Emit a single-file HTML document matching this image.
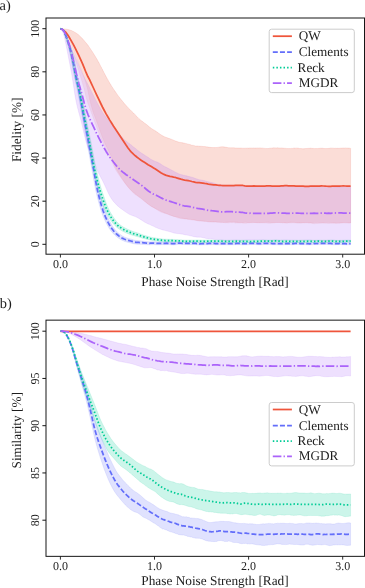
<!DOCTYPE html>
<html><head><meta charset="utf-8"><title>chart</title>
<style>
html,body{margin:0;padding:0;background:#fff;}
body{width:365px;height:588px;overflow:hidden;}
svg{display:block;font-family:"Liberation Serif",serif;will-change:transform;}
text{text-rendering:geometricPrecision;}
</style></head><body>
<svg width="365" height="588" viewBox="0 0 365 588">
<defs>
<clipPath id="c1"><rect x="46.0" y="18.0" width="318.5" height="236.2"/></clipPath>
<clipPath id="c2"><rect x="46.0" y="320.15" width="318.5" height="236.20000000000005"/></clipPath>
</defs>
<rect width="365" height="588" fill="#fff"/>
<g clip-path="url(#c1)">
<path d="M60.50,28.70 L62.32,28.76 L64.15,28.93 L65.97,29.17 L67.80,29.47 L69.62,29.89 L71.45,30.56 L73.27,31.43 L75.10,32.44 L76.92,33.57 L78.75,34.97 L80.57,36.69 L82.39,38.60 L84.22,40.67 L86.04,42.83 L87.87,45.12 L89.69,47.69 L91.52,50.42 L93.34,53.31 L95.17,56.22 L96.99,59.28 L98.82,62.54 L100.64,66.03 L102.46,69.58 L104.29,73.17 L106.11,76.58 L107.94,79.89 L109.76,83.07 L111.59,86.07 L113.41,88.88 L115.24,91.53 L117.06,94.14 L118.88,96.65 L120.71,99.05 L122.53,101.30 L124.36,103.49 L126.18,105.57 L128.01,107.64 L129.83,109.40 L131.66,111.32 L133.48,113.00 L135.31,114.93 L137.13,116.70 L138.95,118.63 L140.78,120.23 L142.60,121.62 L144.43,122.98 L146.25,124.24 L148.08,125.75 L149.90,127.31 L151.73,128.73 L153.55,129.78 L155.38,130.93 L157.20,132.10 L159.02,133.38 L160.85,134.70 L162.67,135.85 L164.50,136.66 L166.32,137.43 L168.15,138.10 L169.97,138.72 L171.80,139.46 L173.62,140.21 L175.45,141.01 L177.27,141.60 L179.09,142.21 L180.92,142.46 L182.74,142.82 L184.57,143.21 L186.39,143.64 L188.22,144.14 L190.04,144.56 L191.87,145.21 L193.69,145.45 L195.52,145.94 L197.34,145.99 L199.16,146.29 L200.99,146.21 L202.81,146.46 L204.64,146.56 L206.46,146.83 L208.29,147.12 L210.11,147.33 L211.94,147.56 L213.76,147.59 L215.58,147.55 L217.41,147.42 L219.23,147.14 L221.06,146.83 L222.88,146.72 L224.71,147.00 L226.53,147.36 L228.36,147.67 L230.18,147.80 L232.01,147.82 L233.83,147.77 L235.65,147.95 L237.48,148.03 L239.30,148.09 L241.13,148.06 L242.95,148.14 L244.78,148.23 L246.60,148.14 L248.43,148.12 L250.25,147.92 L252.08,148.04 L253.90,147.91 L255.72,148.06 L257.55,147.90 L259.37,147.88 L261.20,147.95 L263.02,148.19 L264.85,148.39 L266.67,148.48 L268.50,148.50 L270.32,148.16 L272.15,147.97 L273.97,147.82 L275.79,147.92 L277.62,147.86 L279.44,148.05 L281.27,147.94 L283.09,148.10 L284.92,148.20 L286.74,148.41 L288.57,148.53 L290.39,148.49 L292.22,148.42 L294.04,148.09 L295.86,148.15 L297.69,148.08 L299.51,148.46 L301.34,148.61 L303.16,148.76 L304.99,148.60 L306.81,148.44 L308.64,148.32 L310.46,148.23 L312.28,148.36 L314.11,148.46 L315.93,148.59 L317.76,148.50 L319.58,148.34 L321.41,148.29 L323.23,148.33 L325.06,148.51 L326.88,148.49 L328.71,148.36 L330.53,148.14 L332.35,148.13 L334.18,148.19 L336.00,148.28 L337.83,148.28 L339.65,148.27 L341.48,148.07 L343.30,148.06 L345.13,147.90 L346.95,148.05 L348.78,148.08 L350.60,148.34 L350.60,223.00 L348.78,222.96 L346.95,222.57 L345.13,222.59 L343.30,222.41 L341.48,222.78 L339.65,222.80 L337.83,222.87 L336.00,222.77 L334.18,222.72 L332.35,222.65 L330.53,222.50 L328.71,222.40 L326.88,222.44 L325.06,222.58 L323.23,222.68 L321.41,222.59 L319.58,222.62 L317.76,222.39 L315.93,222.51 L314.11,222.48 L312.28,222.75 L310.46,222.71 L308.64,223.01 L306.81,222.86 L304.99,222.87 L303.16,222.75 L301.34,222.82 L299.51,222.97 L297.69,222.96 L295.86,222.94 L294.04,222.82 L292.22,222.77 L290.39,222.90 L288.57,222.90 L286.74,223.13 L284.92,222.90 L283.09,222.91 L281.27,222.62 L279.44,222.50 L277.62,222.52 L275.79,222.55 L273.97,222.64 L272.15,222.47 L270.32,222.43 L268.50,222.25 L266.67,222.26 L264.85,222.36 L263.02,222.43 L261.20,222.45 L259.37,222.39 L257.55,222.43 L255.72,222.52 L253.90,222.58 L252.08,222.77 L250.25,222.68 L248.43,222.57 L246.60,222.35 L244.78,222.28 L242.95,222.45 L241.13,222.51 L239.30,223.08 L237.48,222.92 L235.65,223.04 L233.83,222.55 L232.01,222.65 L230.18,222.51 L228.36,222.90 L226.53,222.71 L224.71,222.70 L222.88,222.36 L221.06,222.29 L219.23,222.01 L217.41,221.98 L215.58,221.92 L213.76,221.89 L211.94,222.02 L210.11,221.97 L208.29,221.77 L206.46,221.31 L204.64,221.15 L202.81,220.93 L200.99,220.94 L199.16,220.91 L197.34,220.71 L195.52,220.26 L193.69,219.79 L191.87,219.51 L190.04,219.27 L188.22,219.24 L186.39,219.09 L184.57,218.97 L182.74,218.76 L180.92,218.65 L179.09,218.15 L177.27,217.73 L175.45,216.87 L173.62,216.28 L171.80,215.60 L169.97,215.09 L168.15,214.37 L166.32,213.71 L164.50,213.25 L162.67,212.71 L160.85,212.10 L159.02,211.10 L157.20,209.78 L155.38,208.49 L153.55,207.42 L151.73,206.67 L149.90,205.50 L148.08,204.13 L146.25,202.55 L144.43,200.81 L142.60,199.40 L140.78,198.04 L138.95,197.03 L137.13,195.76 L135.31,194.63 L133.48,193.12 L131.66,191.37 L129.83,189.30 L128.01,187.14 L126.18,184.83 L124.36,182.40 L122.53,179.92 L120.71,177.39 L118.88,174.79 L117.06,171.96 L115.24,168.92 L113.41,165.22 L111.59,160.99 L109.76,156.68 L107.94,152.78 L106.11,149.04 L104.29,145.49 L102.46,141.75 L100.64,137.62 L98.82,132.95 L96.99,128.01 L95.17,122.94 L93.34,118.05 L91.52,113.08 L89.69,108.12 L87.87,103.23 L86.04,97.00 L84.22,89.25 L82.39,82.86 L80.57,76.90 L78.75,70.86 L76.92,64.94 L75.10,59.22 L73.27,53.71 L71.45,48.40 L69.62,43.17 L67.80,38.53 L65.97,34.27 L64.15,31.16 L62.32,29.49 L60.50,28.70Z" fill="#EF553B" fill-opacity="0.105" stroke="#EF553B" stroke-opacity="0.105" stroke-width="0.6"/>
<path d="M60.50,28.70 L62.32,28.76 L64.15,28.93 L65.97,29.17 L67.80,29.47 L69.62,29.89 L71.45,30.56 L73.27,31.43 L75.10,32.44 L76.92,33.57 L78.75,34.97 L80.57,36.69 L82.39,38.60 L84.22,40.67 L86.04,42.83 L87.87,45.12 L89.69,47.69 L91.52,50.42 L93.34,53.31 L95.17,56.22 L96.99,59.28 L98.82,62.54 L100.64,66.03 L102.46,69.58 L104.29,73.17 L106.11,76.58 L107.94,79.89 L109.76,83.07 L111.59,86.07 L113.41,88.88 L115.24,91.53 L117.06,94.14 L118.88,96.65 L120.71,99.05 L122.53,101.30 L124.36,103.49 L126.18,105.57 L128.01,107.64 L129.83,109.40 L131.66,111.32 L133.48,113.00 L135.31,114.93 L137.13,116.70 L138.95,118.63 L140.78,120.23 L142.60,121.62 L144.43,122.98 L146.25,124.24 L148.08,125.75 L149.90,127.31 L151.73,128.73 L153.55,129.78 L155.38,130.93 L157.20,132.10 L159.02,133.38 L160.85,134.70 L162.67,135.85 L164.50,136.66 L166.32,137.43 L168.15,138.10 L169.97,138.72 L171.80,139.46 L173.62,140.21 L175.45,141.01 L177.27,141.60 L179.09,142.21 L180.92,142.46 L182.74,142.82 L184.57,143.21 L186.39,143.64 L188.22,144.14 L190.04,144.56 L191.87,145.21 L193.69,145.45 L195.52,145.94 L197.34,145.99 L199.16,146.29 L200.99,146.21 L202.81,146.46 L204.64,146.56 L206.46,146.83 L208.29,147.12 L210.11,147.33 L211.94,147.56 L213.76,147.59 L215.58,147.55 L217.41,147.42 L219.23,147.14 L221.06,146.83 L222.88,146.72 L224.71,147.00 L226.53,147.36 L228.36,147.67 L230.18,147.80 L232.01,147.82 L233.83,147.77 L235.65,147.95 L237.48,148.03 L239.30,148.09 L241.13,148.06 L242.95,148.14 L244.78,148.23 L246.60,148.14 L248.43,148.12 L250.25,147.92 L252.08,148.04 L253.90,147.91 L255.72,148.06 L257.55,147.90 L259.37,147.88 L261.20,147.95 L263.02,148.19 L264.85,148.39 L266.67,148.48 L268.50,148.50 L270.32,148.16 L272.15,147.97 L273.97,147.82 L275.79,147.92 L277.62,147.86 L279.44,148.05 L281.27,147.94 L283.09,148.10 L284.92,148.20 L286.74,148.41 L288.57,148.53 L290.39,148.49 L292.22,148.42 L294.04,148.09 L295.86,148.15 L297.69,148.08 L299.51,148.46 L301.34,148.61 L303.16,148.76 L304.99,148.60 L306.81,148.44 L308.64,148.32 L310.46,148.23 L312.28,148.36 L314.11,148.46 L315.93,148.59 L317.76,148.50 L319.58,148.34 L321.41,148.29 L323.23,148.33 L325.06,148.51 L326.88,148.49 L328.71,148.36 L330.53,148.14 L332.35,148.13 L334.18,148.19 L336.00,148.28 L337.83,148.28 L339.65,148.27 L341.48,148.07 L343.30,148.06 L345.13,147.90 L346.95,148.05 L348.78,148.08 L350.60,148.34 L350.60,222.91 L348.78,223.10 L346.95,223.11 L345.13,223.05 L343.30,223.03 L341.48,222.95 L339.65,223.29 L337.83,223.30 L336.00,223.45 L334.18,223.20 L332.35,223.33 L330.53,223.34 L328.71,223.49 L326.88,223.37 L325.06,223.31 L323.23,223.10 L321.41,223.14 L319.58,223.25 L317.76,223.50 L315.93,223.59 L314.11,223.66 L312.28,223.52 L310.46,223.03 L308.64,222.76 L306.81,222.51 L304.99,222.63 L303.16,222.70 L301.34,223.02 L299.51,223.00 L297.69,222.81 L295.86,222.60 L294.04,222.29 L292.22,222.24 L290.39,222.17 L288.57,222.42 L286.74,222.44 L284.92,222.71 L283.09,222.62 L281.27,222.66 L279.44,222.47 L277.62,222.47 L275.79,222.58 L273.97,222.86 L272.15,223.09 L270.32,223.20 L268.50,223.19 L266.67,223.03 L264.85,222.91 L263.02,222.81 L261.20,222.89 L259.37,222.91 L257.55,222.90 L255.72,222.63 L253.90,222.44 L252.08,222.32 L250.25,222.52 L248.43,222.87 L246.60,223.21 L244.78,223.20 L242.95,223.16 L241.13,222.85 L239.30,222.60 L237.48,222.23 L235.65,222.15 L233.83,221.76 L232.01,221.88 L230.18,221.94 L228.36,222.10 L226.53,222.17 L224.71,222.34 L222.88,222.55 L221.06,222.60 L219.23,222.56 L217.41,222.36 L215.58,222.04 L213.76,222.02 L211.94,221.94 L210.11,221.92 L208.29,221.71 L206.46,221.52 L204.64,221.42 L202.81,221.35 L200.99,221.06 L199.16,220.84 L197.34,220.42 L195.52,220.30 L193.69,220.03 L191.87,220.01 L190.04,219.62 L188.22,219.37 L186.39,218.93 L184.57,218.64 L182.74,218.16 L180.92,217.87 L179.09,217.39 L177.27,217.06 L175.45,216.69 L173.62,216.38 L171.80,215.74 L169.97,215.11 L168.15,214.26 L166.32,213.51 L164.50,212.75 L162.67,211.98 L160.85,211.23 L159.02,210.37 L157.20,209.62 L155.38,208.66 L153.55,207.64 L151.73,206.47 L149.90,205.17 L148.08,203.96 L146.25,202.65 L144.43,201.39 L142.60,199.86 L140.78,198.36 L138.95,196.68 L137.13,195.23 L135.31,193.75 L133.48,192.30 L131.66,190.63 L129.83,188.81 L128.01,186.78 L126.18,184.49 L124.36,181.93 L122.53,179.10 L120.71,176.22 L118.88,173.25 L117.06,170.14 L115.24,166.39 L113.41,161.82 L111.59,157.14 L109.76,152.98 L107.94,149.29 L106.11,145.72 L104.29,141.89 L102.46,137.46 L100.64,132.48 L98.82,127.27 L96.99,122.19 L95.17,117.44 L93.34,112.80 L91.52,106.84 L89.69,99.47 L87.87,90.18 L86.04,83.45 L84.22,77.71 L82.39,72.69 L80.57,68.22 L78.75,63.86 L76.92,59.14 L75.10,54.18 L73.27,49.39 L71.45,44.71 L69.62,40.34 L67.80,36.47 L65.97,32.92 L64.15,30.70 L62.32,29.31 L60.50,28.70Z" fill="#EF553B" fill-opacity="0.105" stroke="#EF553B" stroke-opacity="0.105" stroke-width="0.6"/>
<path d="M60.50,28.70 L61.75,29.27 L62.91,30.39 L64.04,32.25 L65.19,35.70 L66.36,39.61 L67.52,43.66 L68.69,48.18 L69.84,53.20 L71.05,59.01 L72.35,65.68 L73.66,72.65 L74.98,79.33 L76.29,85.24 L77.60,91.30 L78.90,98.23 L80.21,105.64 L81.52,113.15 L82.83,120.42 L84.14,127.56 L85.45,134.67 L86.76,141.73 L88.07,148.74 L89.38,155.69 L90.67,162.65 L91.97,169.75 L93.27,177.29 L94.57,184.67 L95.88,191.14 L97.19,196.63 L98.50,201.76 L99.81,206.50 L101.13,210.80 L102.46,214.60 L103.79,217.85 L105.12,220.75 L106.45,223.47 L107.79,225.96 L109.15,228.25 L110.54,230.27 L111.95,232.10 L113.36,233.65 L114.76,235.07 L116.16,236.29 L117.56,237.47 L118.98,238.49 L120.42,239.43 L121.87,240.19 L123.29,240.85 L124.74,241.43 L126.17,241.87 L127.56,242.26 L128.86,242.56 L130.15,242.94 L131.50,243.27 L132.90,243.65 L134.33,243.90 L135.77,244.12 L137.19,244.20 L138.53,244.26 L139.87,244.32 L141.19,244.36 L142.52,244.42 L143.82,244.46 L145.14,244.57 L146.46,244.63 L147.79,244.74 L149.22,244.79 L150.61,244.74 L151.96,244.69 L153.22,244.60 L154.47,244.69 L155.79,244.72 L157.17,244.83 L158.56,244.76 L159.89,244.75 L161.20,244.67 L162.50,244.68 L163.81,244.65 L165.17,244.69 L166.49,244.59 L167.77,244.63 L169.04,244.62 L170.32,244.76 L171.66,244.86 L173.08,244.97 L174.52,244.86 L175.88,244.73 L177.18,244.56 L178.43,244.48 L179.70,244.48 L181.01,244.50 L182.37,244.55 L183.68,244.50 L185.00,244.57 L186.30,244.55 L187.62,244.65 L188.98,244.64 L190.32,244.67 L191.69,244.64 L193.00,244.57 L194.27,244.56 L195.52,244.60 L196.79,244.76 L198.14,244.92 L199.56,245.04 L200.96,244.98 L202.31,244.92 L203.61,244.82 L204.92,244.81 L206.24,244.75 L207.56,244.76 L208.89,244.69 L210.20,244.69 L211.53,244.65 L212.81,244.64 L214.11,244.70 L215.42,244.76 L216.77,244.83 L218.12,244.83 L219.49,244.85 L220.83,244.75 L222.12,244.74 L223.43,244.73 L224.74,244.75 L226.03,244.77 L227.37,244.86 L228.74,244.84 L230.10,244.84 L231.40,244.76 L232.74,244.80 L234.07,244.69 L235.39,244.71 L236.70,244.60 L237.98,244.65 L239.25,244.65 L240.58,244.82 L241.96,244.81 L243.33,244.85 L244.68,244.75 L245.98,244.74 L247.29,244.69 L248.63,244.70 L249.99,244.62 L251.30,244.57 L252.61,244.50 L253.89,244.49 L255.16,244.53 L256.45,244.64 L257.79,244.76 L259.17,244.83 L260.57,244.82 L261.94,244.72 L263.26,244.61 L264.53,244.52 L265.79,244.55 L267.13,244.59 L268.46,244.58 L269.78,244.61 L271.08,244.62 L272.40,244.68 L273.71,244.72 L275.06,244.82 L276.40,244.80 L277.72,244.85 L279.05,244.86 L280.39,244.89 L281.76,244.87 L283.10,244.80 L284.43,244.73 L285.72,244.65 L287.03,244.67 L288.31,244.62 L289.62,244.73 L290.98,244.73 L292.34,244.76 L293.70,244.66 L295.01,244.62 L296.31,244.54 L297.58,244.56 L298.90,244.62 L300.23,244.65 L301.58,244.69 L302.90,244.67 L304.21,244.71 L305.50,244.72 L306.82,244.85 L308.19,244.86 L309.58,244.90 L310.93,244.76 L312.25,244.73 L313.54,244.61 L314.82,244.65 L316.17,244.63 L317.50,244.63 L318.83,244.58 L320.16,244.57 L321.51,244.51 L322.81,244.45 L324.09,244.43 L325.38,244.48 L326.71,244.54 L328.06,244.58 L329.40,244.59 L330.71,244.59 L332.00,244.65 L333.34,244.71 L334.69,244.74 L336.06,244.74 L337.40,244.67 L338.72,244.64 L340.01,244.58 L341.30,244.63 L342.59,244.65 L343.91,244.78 L345.27,244.80 L346.64,244.86 L347.99,244.75 L349.30,244.76 L350.66,244.68 L350.54,242.49 L349.25,242.56 L347.91,242.55 L346.61,242.65 L345.34,242.59 L344.04,242.57 L342.72,242.44 L341.36,242.42 L340.00,242.36 L338.64,242.42 L337.31,242.45 L336.00,242.52 L334.72,242.51 L333.42,242.48 L332.11,242.42 L330.75,242.36 L329.41,242.36 L328.10,242.34 L326.80,242.30 L325.48,242.24 L324.12,242.18 L322.75,242.21 L321.41,242.26 L320.10,242.32 L318.79,242.32 L317.46,242.37 L316.15,242.37 L314.84,242.39 L313.48,242.34 L312.12,242.46 L310.79,242.50 L309.49,242.62 L308.23,242.59 L306.95,242.58 L305.62,242.44 L304.26,242.43 L302.92,242.38 L301.60,242.41 L300.29,242.36 L298.98,242.33 L297.65,242.27 L296.26,242.25 L294.92,242.33 L293.58,242.36 L292.29,242.46 L291.00,242.42 L289.71,242.42 L288.37,242.31 L287.00,242.36 L285.67,242.34 L284.30,242.42 L282.98,242.49 L281.68,242.55 L280.40,242.57 L279.09,242.53 L277.77,242.53 L276.44,242.47 L275.13,242.49 L273.83,242.39 L272.49,242.35 L271.16,242.28 L269.81,242.26 L268.48,242.24 L267.16,242.24 L265.85,242.20 L264.47,242.17 L263.09,242.26 L261.76,242.37 L260.47,242.47 L259.23,242.47 L257.96,242.40 L256.65,242.28 L255.29,242.16 L253.91,242.12 L252.54,242.13 L251.20,242.20 L249.87,242.25 L248.57,242.32 L247.26,242.31 L245.93,242.35 L244.58,242.36 L243.27,242.46 L241.99,242.42 L240.72,242.43 L239.41,242.26 L238.03,242.26 L236.65,242.20 L235.32,242.31 L233.99,242.28 L232.67,242.39 L231.36,242.35 L230.02,242.43 L228.72,242.43 L227.44,242.44 L226.13,242.35 L224.78,242.33 L223.44,242.31 L222.10,242.32 L220.74,242.33 L219.42,242.42 L218.14,242.40 L216.85,242.39 L215.55,242.32 L214.21,242.26 L212.86,242.20 L211.49,242.20 L210.17,242.25 L208.83,242.24 L207.51,242.31 L206.19,242.30 L204.86,242.36 L203.51,242.36 L202.16,242.47 L200.86,242.52 L199.62,242.57 L198.39,242.47 L197.09,242.31 L195.71,242.14 L194.31,242.08 L192.93,242.09 L191.60,242.16 L190.32,242.19 L189.00,242.16 L187.71,242.16 L186.38,242.06 L185.04,242.08 L183.70,242.01 L182.37,242.06 L181.08,242.00 L179.74,241.97 L178.36,241.95 L176.96,242.02 L175.61,242.17 L174.32,242.28 L173.11,242.35 L171.88,242.23 L170.58,242.11 L169.20,241.94 L167.83,241.93 L166.45,241.86 L165.12,241.94 L163.84,241.88 L162.50,241.89 L161.15,241.86 L159.81,241.91 L158.49,241.91 L157.23,241.95 L155.96,241.83 L154.63,241.77 L153.23,241.66 L151.84,241.73 L150.54,241.75 L149.28,241.76 L148.06,241.65 L146.74,241.47 L145.42,241.35 L144.09,241.17 L142.73,241.06 L141.41,240.93 L140.09,240.82 L138.78,240.70 L137.47,240.57 L136.24,240.45 L135.03,240.20 L133.82,239.93 L132.56,239.52 L131.26,239.13 L129.90,238.70 L128.55,238.38 L127.30,238.03 L126.07,237.66 L124.88,237.18 L123.65,236.60 L122.45,235.98 L121.24,235.19 L120.01,234.31 L118.76,233.26 L117.51,232.15 L116.26,230.90 L115.02,229.54 L113.78,227.92 L112.52,226.09 L111.24,223.98 L109.93,221.65 L108.61,219.07 L107.29,216.31 L105.97,213.24 L104.65,209.62 L103.32,205.46 L101.98,200.82 L100.64,195.76 L99.30,190.38 L97.96,184.02 L96.61,176.69 L95.26,169.15 L93.91,162.04 L92.56,155.09 L91.21,148.15 L89.87,141.14 L88.53,134.09 L87.19,126.99 L85.86,119.86 L84.52,112.61 L83.18,105.12 L81.84,97.69 L80.49,90.71 L79.15,84.61 L77.81,78.73 L76.48,72.10 L75.14,65.14 L73.80,58.42 L72.35,52.59 L70.86,47.58 L69.37,43.08 L67.89,39.09 L66.41,35.26 L64.91,31.82 L63.39,29.96 L61.90,28.99 L60.50,28.70Z" fill="#636EFA" fill-opacity="0.2" stroke="#636EFA" stroke-opacity="0.2" stroke-width="0.6"/>
<path d="M60.50,28.70 L61.75,29.27 L62.91,30.39 L64.04,32.26 L65.19,35.73 L66.36,39.61 L67.53,43.49 L68.69,47.73 L69.85,52.46 L71.05,58.02 L72.35,64.69 L73.66,71.75 L74.98,78.47 L76.30,84.13 L77.60,89.45 L78.90,95.78 L80.21,102.85 L81.52,110.16 L82.83,117.24 L84.15,123.88 L85.46,130.31 L86.77,136.78 L88.07,143.45 L89.37,150.68 L90.67,158.08 L91.98,165.01 L93.28,171.11 L94.59,176.90 L95.89,182.32 L97.20,187.33 L98.52,191.83 L99.82,196.01 L101.13,200.00 L102.45,203.78 L103.77,207.30 L105.10,210.49 L106.45,213.33 L107.80,215.74 L109.15,217.94 L110.51,219.98 L111.87,221.96 L113.27,223.74 L114.69,225.36 L116.13,226.73 L117.56,227.91 L118.97,228.94 L120.36,229.85 L121.77,230.72 L123.14,231.43 L124.52,232.18 L125.90,232.80 L127.27,233.44 L128.66,233.98 L130.01,234.50 L131.37,234.95 L132.74,235.40 L134.16,235.82 L135.53,236.14 L136.83,236.47 L138.10,236.82 L139.40,237.25 L140.72,237.67 L142.11,238.15 L143.52,238.50 L144.87,238.84 L146.20,239.13 L147.55,239.49 L148.88,239.73 L150.24,240.10 L151.65,240.34 L153.00,240.57 L154.33,240.73 L155.66,240.95 L157.04,241.11 L158.35,241.24 L159.67,241.40 L161.01,241.55 L162.34,241.69 L163.72,241.83 L165.10,241.88 L166.44,241.89 L167.76,241.92 L169.08,241.95 L170.43,241.98 L171.74,241.97 L173.05,242.01 L174.38,242.04 L175.70,242.07 L177.01,242.10 L178.33,242.16 L179.64,242.21 L180.95,242.31 L182.29,242.40 L183.62,242.48 L184.99,242.55 L186.34,242.53 L187.71,242.56 L189.01,242.45 L190.29,242.51 L191.63,242.50 L192.99,242.54 L194.36,242.46 L195.66,242.38 L196.93,242.36 L198.20,242.41 L199.52,242.51 L200.90,242.56 L202.25,242.54 L203.56,242.53 L204.91,242.55 L206.25,242.47 L207.59,242.47 L208.88,242.35 L210.16,242.43 L211.49,242.39 L212.81,242.48 L214.18,242.45 L215.51,242.44 L216.86,242.39 L218.16,242.32 L219.45,242.33 L220.72,242.33 L222.02,242.45 L223.35,242.53 L224.72,242.63 L226.09,242.62 L227.43,242.61 L228.73,242.57 L230.05,242.60 L231.39,242.58 L232.73,242.58 L234.06,242.53 L235.40,242.50 L236.69,242.44 L237.99,242.48 L239.31,242.47 L240.65,242.53 L241.98,242.48 L243.30,242.52 L244.64,242.47 L245.91,242.50 L247.23,242.56 L248.53,242.60 L249.87,242.71 L251.24,242.72 L252.62,242.73 L253.98,242.60 L255.28,242.54 L256.58,242.48 L257.87,242.48 L259.22,242.48 L260.57,242.42 L261.93,242.36 L263.21,242.24 L264.50,242.27 L265.80,242.23 L267.11,242.32 L268.44,242.32 L269.78,242.40 L271.15,242.35 L272.49,242.32 L273.84,242.25 L275.15,242.16 L276.39,242.12 L277.67,242.21 L278.97,242.29 L280.34,242.43 L281.70,242.41 L283.06,242.46 L284.38,242.36 L285.66,242.42 L286.96,242.41 L288.27,242.53 L289.63,242.57 L291.00,242.62 L292.36,242.54 L293.70,242.50 L294.98,242.41 L296.27,242.47 L297.57,242.46 L298.93,242.58 L300.30,242.48 L301.62,242.49 L302.94,242.40 L304.25,242.42 L305.57,242.37 L306.90,242.40 L308.25,242.33 L309.51,242.30 L310.77,242.38 L312.10,242.52 L313.50,242.58 L314.89,242.55 L316.23,242.43 L317.53,242.37 L318.80,242.34 L320.10,242.38 L321.43,242.40 L322.76,242.45 L324.11,242.45 L325.47,242.44 L326.84,242.36 L328.18,242.25 L329.44,242.13 L330.71,242.17 L331.99,242.18 L333.28,242.32 L334.60,242.41 L335.97,242.57 L337.35,242.56 L338.69,242.58 L340.04,242.53 L341.37,242.49 L342.69,242.42 L344.03,242.39 L345.34,242.28 L346.64,242.30 L347.94,242.23 L349.27,242.31 L350.66,242.24 L350.54,240.04 L349.28,240.11 L347.96,240.03 L346.61,240.09 L345.26,240.07 L343.92,240.18 L342.61,240.21 L341.28,240.27 L339.97,240.32 L338.67,240.36 L337.36,240.34 L336.09,240.35 L334.81,240.19 L333.48,240.10 L332.12,239.95 L330.75,239.94 L329.37,239.89 L327.98,240.02 L326.68,240.12 L325.39,240.20 L324.11,240.21 L322.81,240.20 L321.48,240.15 L320.16,240.13 L318.81,240.08 L317.44,240.11 L316.08,240.18 L314.77,240.29 L313.52,240.31 L312.27,240.26 L310.96,240.12 L309.56,240.03 L308.17,240.06 L306.87,240.12 L305.55,240.09 L304.23,240.13 L302.88,240.11 L301.55,240.20 L300.23,240.20 L298.95,240.28 L297.66,240.17 L296.31,240.17 L294.95,240.11 L293.58,240.21 L292.27,240.24 L290.98,240.31 L289.70,240.26 L288.41,240.23 L287.07,240.10 L285.72,240.10 L284.35,240.04 L283.02,240.14 L281.73,240.09 L280.44,240.11 L279.16,239.97 L277.82,239.89 L276.45,239.79 L275.04,239.83 L273.70,239.91 L272.40,239.98 L271.09,240.02 L269.81,240.06 L268.50,239.97 L267.19,239.98 L265.85,239.88 L264.49,239.92 L263.13,239.89 L261.77,240.01 L260.47,240.07 L259.18,240.12 L257.88,240.11 L256.52,240.12 L255.17,240.18 L253.82,240.24 L252.53,240.36 L251.26,240.34 L249.98,240.33 L248.67,240.22 L247.32,240.18 L245.99,240.12 L244.62,240.09 L243.30,240.13 L241.98,240.08 L240.66,240.13 L239.35,240.07 L238.02,240.08 L236.67,240.04 L235.31,240.10 L234.00,240.13 L232.68,240.17 L231.37,240.17 L230.06,240.19 L228.73,240.16 L227.39,240.19 L226.07,240.20 L224.80,240.21 L223.52,240.11 L222.20,240.03 L220.84,239.90 L219.47,239.90 L218.10,239.89 L216.76,239.96 L215.46,240.00 L214.14,240.01 L212.86,240.04 L211.53,239.95 L210.21,239.99 L208.85,239.90 L207.48,240.02 L206.18,240.01 L204.86,240.09 L203.57,240.07 L202.23,240.08 L200.93,240.09 L199.66,240.04 L198.33,239.94 L196.95,239.89 L195.57,239.91 L194.22,239.99 L192.95,240.06 L191.65,240.02 L190.35,240.03 L188.97,239.96 L187.63,240.07 L186.35,240.04 L185.05,240.06 L183.77,239.99 L182.45,239.91 L181.13,239.82 L179.80,239.71 L178.46,239.64 L177.13,239.55 L175.79,239.50 L174.46,239.44 L173.14,239.40 L171.80,239.33 L170.47,239.32 L169.16,239.27 L167.84,239.22 L166.50,239.17 L165.19,239.14 L163.93,239.06 L162.65,238.92 L161.34,238.75 L160.03,238.59 L158.69,238.40 L157.36,238.24 L156.09,238.08 L154.77,237.84 L153.45,237.66 L152.16,237.41 L150.91,237.19 L149.62,236.79 L148.30,236.47 L147.01,236.07 L145.69,235.71 L144.39,235.32 L143.15,234.95 L141.88,234.43 L140.56,233.95 L139.21,233.43 L137.83,232.98 L136.48,232.57 L135.20,232.21 L133.98,231.78 L132.69,231.28 L131.40,230.78 L130.11,230.25 L128.84,229.77 L127.56,229.17 L126.30,228.60 L125.03,227.90 L123.75,227.24 L122.51,226.47 L121.25,225.65 L120.01,224.75 L118.79,223.74 L117.58,222.60 L116.35,221.19 L115.10,219.59 L113.82,217.74 L112.52,215.79 L111.22,213.70 L109.93,211.50 L108.63,208.89 L107.31,205.87 L105.98,202.47 L104.65,198.79 L103.30,194.87 L101.96,190.77 L100.63,186.37 L99.29,181.45 L97.94,176.10 L96.60,170.37 L95.25,164.34 L93.91,157.48 L92.56,150.10 L91.21,142.85 L89.87,136.16 L88.53,129.68 L87.19,123.26 L85.85,116.66 L84.52,109.61 L83.18,102.30 L81.83,95.20 L80.49,88.80 L79.14,83.44 L77.81,77.86 L76.48,71.21 L75.14,64.15 L73.80,57.43 L72.35,51.81 L70.86,47.09 L69.37,42.88 L67.89,39.08 L66.40,35.29 L64.91,31.83 L63.39,29.96 L61.90,28.99 L60.50,28.70Z" fill="#00CC96" fill-opacity="0.2" stroke="#00CC96" stroke-opacity="0.2" stroke-width="0.6"/>
<path d="M60.50,28.70 L62.32,30.24 L64.15,32.63 L65.97,35.97 L67.80,39.74 L69.62,44.04 L71.45,48.38 L73.27,52.49 L75.10,56.57 L76.92,60.66 L78.75,64.87 L80.57,69.16 L82.39,73.37 L84.22,77.25 L86.04,80.78 L87.87,84.25 L89.69,87.89 L91.52,91.63 L93.34,95.33 L95.17,98.90 L96.99,102.41 L98.82,105.82 L100.64,109.08 L102.46,112.15 L104.29,114.94 L106.11,117.37 L107.94,119.62 L109.76,121.94 L111.59,124.37 L113.41,126.69 L115.24,129.05 L117.06,131.24 L118.88,133.50 L120.71,135.74 L122.53,137.85 L124.36,139.63 L126.18,141.19 L128.01,142.63 L129.83,143.98 L131.66,145.41 L133.48,146.92 L135.31,148.33 L137.13,149.90 L138.95,151.24 L140.78,152.67 L142.60,153.83 L144.43,155.05 L146.25,156.19 L148.08,157.32 L149.90,158.66 L151.73,159.71 L153.55,160.68 L155.38,161.42 L157.20,162.11 L159.02,162.99 L160.85,164.06 L162.67,165.41 L164.50,166.41 L166.32,167.37 L168.15,168.27 L169.97,169.17 L171.80,170.18 L173.62,171.17 L175.45,172.23 L177.27,173.08 L179.09,173.91 L180.92,174.55 L182.74,175.06 L184.57,175.44 L186.39,175.85 L188.22,176.32 L190.04,176.73 L191.87,177.25 L193.69,177.78 L195.52,178.60 L197.34,179.06 L199.16,179.67 L200.99,179.88 L202.81,180.31 L204.64,180.68 L206.46,181.29 L208.29,181.81 L210.11,182.15 L211.94,182.53 L213.76,183.00 L215.58,183.66 L217.41,184.23 L219.23,184.64 L221.06,184.83 L222.88,184.98 L224.71,185.10 L226.53,185.29 L228.36,185.18 L230.18,185.11 L232.01,185.18 L233.83,185.20 L235.65,185.41 L237.48,185.45 L239.30,185.64 L241.13,185.55 L242.95,185.73 L244.78,185.76 L246.60,185.81 L248.43,185.73 L250.25,185.74 L252.08,185.57 L253.90,185.62 L255.72,185.66 L257.55,185.93 L259.37,186.13 L261.20,186.24 L263.02,186.38 L264.85,186.41 L266.67,186.56 L268.50,186.68 L270.32,186.73 L272.15,186.62 L273.97,186.47 L275.79,186.24 L277.62,186.16 L279.44,186.02 L281.27,186.07 L283.09,185.83 L284.92,185.84 L286.74,185.73 L288.57,185.93 L290.39,186.19 L292.22,186.46 L294.04,186.54 L295.86,186.37 L297.69,186.28 L299.51,186.15 L301.34,186.29 L303.16,186.48 L304.99,186.65 L306.81,186.56 L308.64,186.34 L310.46,185.99 L312.28,185.73 L314.11,185.82 L315.93,186.06 L317.76,186.21 L319.58,186.33 L321.41,186.43 L323.23,186.45 L325.06,186.44 L326.88,186.41 L328.71,186.32 L330.53,186.30 L332.35,186.52 L334.18,186.76 L336.00,186.96 L337.83,187.08 L339.65,187.08 L341.48,186.84 L343.30,186.59 L345.13,186.34 L346.95,186.25 L348.78,186.26 L350.60,186.36 L350.60,240.93 L348.78,241.20 L346.95,241.16 L345.13,241.25 L343.30,241.04 L341.48,241.29 L339.65,240.97 L337.83,240.99 L336.00,240.52 L334.18,240.39 L332.35,240.27 L330.53,240.50 L328.71,240.77 L326.88,240.92 L325.06,240.96 L323.23,241.10 L321.41,240.73 L319.58,240.89 L317.76,240.66 L315.93,240.91 L314.11,240.48 L312.28,240.45 L310.46,240.20 L308.64,240.21 L306.81,240.19 L304.99,240.35 L303.16,240.37 L301.34,240.44 L299.51,240.56 L297.69,240.69 L295.86,240.61 L294.04,240.42 L292.22,240.35 L290.39,240.30 L288.57,240.27 L286.74,240.25 L284.92,240.19 L283.09,240.31 L281.27,240.38 L279.44,240.62 L277.62,240.69 L275.79,240.63 L273.97,240.40 L272.15,240.47 L270.32,240.50 L268.50,240.67 L266.67,240.53 L264.85,240.42 L263.02,239.90 L261.20,239.77 L259.37,239.64 L257.55,239.74 L255.72,239.76 L253.90,239.92 L252.08,239.91 L250.25,240.00 L248.43,240.06 L246.60,240.19 L244.78,240.38 L242.95,240.56 L241.13,240.62 L239.30,240.41 L237.48,240.39 L235.65,240.18 L233.83,240.33 L232.01,240.36 L230.18,240.62 L228.36,240.80 L226.53,240.92 L224.71,240.72 L222.88,240.26 L221.06,239.79 L219.23,239.59 L217.41,239.56 L215.58,239.55 L213.76,239.35 L211.94,238.98 L210.11,238.85 L208.29,238.66 L206.46,238.61 L204.64,238.05 L202.81,237.66 L200.99,237.24 L199.16,237.14 L197.34,237.14 L195.52,236.91 L193.69,236.69 L191.87,236.11 L190.04,235.83 L188.22,235.32 L186.39,235.07 L184.57,234.66 L182.74,234.16 L180.92,233.99 L179.09,233.66 L177.27,233.61 L175.45,233.22 L173.62,232.95 L171.80,232.37 L169.97,231.81 L168.15,231.29 L166.32,230.81 L164.50,230.33 L162.67,229.94 L160.85,229.29 L159.02,228.82 L157.20,227.94 L155.38,227.31 L153.55,226.25 L151.73,225.50 L149.90,224.58 L148.08,223.90 L146.25,223.01 L144.43,222.02 L142.60,220.81 L140.78,219.63 L138.95,218.44 L137.13,217.46 L135.31,216.61 L133.48,215.98 L131.66,215.31 L129.83,214.55 L128.01,213.54 L126.18,212.36 L124.36,211.09 L122.53,209.70 L120.71,208.46 L118.88,206.93 L117.06,205.40 L115.24,203.39 L113.41,201.38 L111.59,198.93 L109.76,196.04 L107.94,192.35 L106.11,188.34 L104.29,184.24 L102.46,180.52 L100.64,177.13 L98.82,173.67 L96.99,169.71 L95.17,165.37 L93.34,160.82 L91.52,156.51 L89.69,152.26 L87.87,147.58 L86.04,141.76 L84.22,134.44 L82.39,126.52 L80.57,119.11 L78.75,112.45 L76.92,105.35 L75.10,96.34 L73.27,83.94 L71.45,72.62 L69.62,63.13 L67.80,53.96 L65.97,44.48 L64.15,36.37 L62.32,30.70 L60.50,28.70Z" fill="#AB63FA" fill-opacity="0.2" stroke="#AB63FA" stroke-opacity="0.2" stroke-width="0.6"/>
<path d="M60.50,28.70 L62.32,29.50 L64.15,30.79 L65.97,32.49 L67.80,34.99 L69.62,38.00 L71.45,41.12 L73.27,44.36 L75.10,47.85 L76.92,51.53 L78.75,55.36 L80.57,59.30 L82.39,63.42 L84.22,67.95 L86.04,72.47 L87.87,76.52 L89.69,79.91 L91.52,83.76 L93.34,87.76 L95.17,91.76 L96.99,95.57 L98.82,99.45 L100.64,103.25 L102.46,107.00 L104.29,110.50 L106.11,113.89 L107.94,117.03 L109.76,120.10 L111.59,123.02 L113.41,125.96 L115.24,128.74 L117.06,131.50 L118.88,134.27 L120.71,137.01 L122.53,139.78 L124.36,142.58 L126.18,145.35 L128.01,147.94 L129.83,150.34 L131.66,152.46 L133.48,154.18 L135.31,155.80 L137.13,157.30 L138.95,158.63 L140.78,159.98 L142.60,161.14 L144.43,162.30 L146.25,163.42 L148.08,164.65 L149.90,165.74 L151.73,166.81 L153.55,167.95 L155.38,169.06 L157.20,170.30 L159.02,171.51 L160.85,172.67 L162.67,173.72 L164.50,174.63 L166.32,175.37 L168.15,175.86 L169.97,176.36 L171.80,176.67 L173.62,177.12 L175.45,177.47 L177.27,178.04 L179.09,178.64 L180.92,179.20 L182.74,179.65 L184.57,180.03 L186.39,180.29 L188.22,180.65 L190.04,181.00 L191.87,181.51 L193.69,181.89 L195.52,182.35 L197.34,182.56 L199.16,182.71 L200.99,182.93 L202.81,183.14 L204.64,183.47 L206.46,183.73 L208.29,184.05 L210.11,184.31 L211.94,184.56 L213.76,184.81 L215.58,184.88 L217.41,185.10 L219.23,185.27 L221.06,185.49 L222.88,185.58 L224.71,185.59 L226.53,185.64 L228.36,185.61 L230.18,185.74 L232.01,185.63 L233.83,185.70 L235.65,185.49 L237.48,185.44 L239.30,185.32 L241.13,185.37 L242.95,185.49 L244.78,185.82 L246.60,186.03 L248.43,186.13 L250.25,186.06 L252.08,186.05 L253.90,185.97 L255.72,186.04 L257.55,186.09 L259.37,186.13 L261.20,186.09 L263.02,186.07 L264.85,186.01 L266.67,185.93 L268.50,185.93 L270.32,185.90 L272.15,186.02 L273.97,186.03 L275.79,186.19 L277.62,186.13 L279.44,186.14 L281.27,185.91 L283.09,185.81 L284.92,185.73 L286.74,185.69 L288.57,185.82 L290.39,185.77 L292.22,185.99 L294.04,185.86 L295.86,186.13 L297.69,186.07 L299.51,186.14 L301.34,186.14 L303.16,186.23 L304.99,186.33 L306.81,186.34 L308.64,186.34 L310.46,186.15 L312.28,186.11 L314.11,186.08 L315.93,186.18 L317.76,186.09 L319.58,186.09 L321.41,185.90 L323.23,186.00 L325.06,186.01 L326.88,186.25 L328.71,186.28 L330.53,186.35 L332.35,186.19 L334.18,186.10 L336.00,186.04 L337.83,186.02 L339.65,186.08 L341.48,186.00 L343.30,185.95 L345.13,186.00 L346.95,186.05 L348.78,186.20 L350.60,186.20" fill="none" stroke="#EF553B" stroke-width="1.75" stroke-linejoin="round"/>
<path d="M60.50,28.70 L61.82,29.13 L63.15,30.17 L64.47,32.04 L65.80,35.48 L67.12,39.35 L68.45,43.37 L69.77,47.88 L71.10,52.89 L72.42,58.72 L73.75,65.41 L75.07,72.37 L76.40,79.03 L77.72,84.93 L79.05,91.00 L80.37,97.96 L81.69,105.38 L83.02,112.88 L84.34,120.14 L85.67,127.28 L86.99,134.38 L88.32,141.44 L89.64,148.44 L90.97,155.39 L92.29,162.35 L93.62,169.45 L94.94,176.99 L96.27,184.35 L97.59,190.76 L98.92,196.19 L100.24,201.29 L101.56,205.98 L102.89,210.21 L104.21,213.92 L105.54,217.08 L106.86,219.91 L108.19,222.56 L109.51,224.97 L110.84,227.17 L112.16,229.09 L113.49,230.82 L114.81,232.28 L116.14,233.61 L117.46,234.77 L118.78,235.89 L120.11,236.84 L121.43,237.70 L122.76,238.40 L124.08,239.02 L125.41,239.54 L126.73,239.95 L128.06,240.32 L129.38,240.63 L130.71,241.03 L132.03,241.40 L133.36,241.79 L134.68,242.05 L136.01,242.28 L137.33,242.38 L138.65,242.48 L139.98,242.57 L141.30,242.65 L142.63,242.74 L143.95,242.81 L145.28,242.96 L146.60,243.05 L147.93,243.19 L149.25,243.27 L150.58,243.24 L151.90,243.21 L153.23,243.13 L154.55,243.23 L155.88,243.28 L157.20,243.39 L158.52,243.34 L159.85,243.33 L161.17,243.27 L162.50,243.28 L163.82,243.27 L165.15,243.32 L166.47,243.22 L167.80,243.28 L169.12,243.28 L170.45,243.44 L171.77,243.54 L173.10,243.66 L174.42,243.57 L175.75,243.45 L177.07,243.29 L178.39,243.21 L179.72,243.23 L181.04,243.25 L182.37,243.30 L183.69,243.26 L185.02,243.32 L186.34,243.30 L187.67,243.41 L188.99,243.40 L190.32,243.43 L191.64,243.40 L192.97,243.33 L194.29,243.32 L195.62,243.37 L196.94,243.53 L198.26,243.70 L199.59,243.80 L200.91,243.75 L202.24,243.70 L203.56,243.59 L204.89,243.59 L206.21,243.52 L207.54,243.53 L208.86,243.46 L210.19,243.47 L211.51,243.43 L212.84,243.42 L214.16,243.48 L215.48,243.54 L216.81,243.61 L218.13,243.62 L219.46,243.63 L220.78,243.54 L222.11,243.53 L223.43,243.52 L224.76,243.54 L226.08,243.56 L227.41,243.65 L228.73,243.64 L230.06,243.63 L231.38,243.55 L232.71,243.60 L234.03,243.48 L235.35,243.51 L236.68,243.40 L238.00,243.45 L239.33,243.46 L240.65,243.63 L241.98,243.62 L243.30,243.66 L244.63,243.55 L245.95,243.54 L247.28,243.50 L248.60,243.51 L249.93,243.44 L251.25,243.38 L252.58,243.31 L253.90,243.31 L255.22,243.34 L256.55,243.46 L257.87,243.58 L259.20,243.65 L260.52,243.65 L261.85,243.54 L263.17,243.44 L264.50,243.35 L265.82,243.37 L267.15,243.41 L268.47,243.41 L269.80,243.44 L271.12,243.45 L272.45,243.52 L273.77,243.55 L275.09,243.65 L276.42,243.63 L277.74,243.69 L279.07,243.69 L280.39,243.73 L281.72,243.71 L283.04,243.64 L284.37,243.57 L285.69,243.50 L287.02,243.51 L288.34,243.47 L289.67,243.58 L290.99,243.57 L292.32,243.61 L293.64,243.51 L294.96,243.47 L296.29,243.40 L297.61,243.41 L298.94,243.48 L300.26,243.51 L301.59,243.55 L302.91,243.53 L304.24,243.57 L305.56,243.58 L306.89,243.72 L308.21,243.72 L309.54,243.76 L310.86,243.63 L312.18,243.59 L313.51,243.47 L314.83,243.52 L316.16,243.50 L317.48,243.50 L318.81,243.45 L320.13,243.44 L321.46,243.38 L322.78,243.33 L324.11,243.31 L325.43,243.36 L326.76,243.42 L328.08,243.46 L329.41,243.48 L330.73,243.47 L332.05,243.53 L333.38,243.59 L334.70,243.63 L336.03,243.63 L337.35,243.56 L338.68,243.53 L340.00,243.47 L341.33,243.52 L342.65,243.54 L343.98,243.68 L345.30,243.69 L346.63,243.76 L347.95,243.65 L349.28,243.66 L350.60,243.58" fill="none" stroke="#636EFA" stroke-width="1.75" stroke-dasharray="5 2.15" stroke-linejoin="round"/>
<path d="M60.50,28.70 L61.82,29.13 L63.15,30.17 L64.47,32.05 L65.80,35.51 L67.12,39.34 L68.45,43.18 L69.77,47.41 L71.10,52.14 L72.42,57.73 L73.75,64.42 L75.07,71.48 L76.40,78.17 L77.72,83.79 L79.05,89.12 L80.37,95.49 L81.69,102.58 L83.02,109.88 L84.34,116.95 L85.67,123.57 L86.99,130.00 L88.32,136.47 L89.64,143.15 L90.97,150.39 L92.29,157.78 L93.62,164.68 L94.94,170.74 L96.27,176.50 L97.59,181.89 L98.92,186.85 L100.24,191.30 L101.56,195.44 L102.89,199.39 L104.21,203.13 L105.54,206.58 L106.86,209.69 L108.19,212.42 L109.51,214.72 L110.84,216.86 L112.16,218.86 L113.49,220.78 L114.81,222.47 L116.14,223.98 L117.46,225.24 L118.78,226.33 L120.11,227.30 L121.43,228.16 L122.76,228.98 L124.08,229.67 L125.41,230.39 L126.73,230.99 L128.06,231.61 L129.38,232.12 L130.71,232.64 L132.03,233.11 L133.36,233.59 L134.68,234.02 L136.01,234.36 L137.33,234.73 L138.65,235.12 L139.98,235.60 L141.30,236.05 L142.63,236.55 L143.95,236.91 L145.28,237.28 L146.60,237.60 L147.93,237.98 L149.25,238.26 L150.58,238.65 L151.90,238.87 L153.23,239.11 L154.55,239.28 L155.88,239.52 L157.20,239.68 L158.52,239.82 L159.85,239.99 L161.17,240.15 L162.50,240.30 L163.82,240.45 L165.15,240.51 L166.47,240.53 L167.80,240.57 L169.12,240.61 L170.45,240.65 L171.77,240.65 L173.10,240.70 L174.42,240.74 L175.75,240.79 L177.07,240.83 L178.39,240.90 L179.72,240.96 L181.04,241.07 L182.37,241.15 L183.69,241.23 L185.02,241.31 L186.34,241.29 L187.67,241.32 L188.99,241.20 L190.32,241.27 L191.64,241.26 L192.97,241.30 L194.29,241.22 L195.62,241.14 L196.94,241.13 L198.26,241.17 L199.59,241.28 L200.91,241.33 L202.24,241.31 L203.56,241.30 L204.89,241.32 L206.21,241.24 L207.54,241.25 L208.86,241.12 L210.19,241.21 L211.51,241.17 L212.84,241.26 L214.16,241.23 L215.48,241.22 L216.81,241.18 L218.13,241.10 L219.46,241.11 L220.78,241.12 L222.11,241.24 L223.43,241.32 L224.76,241.42 L226.08,241.41 L227.41,241.40 L228.73,241.36 L230.06,241.40 L231.38,241.38 L232.71,241.38 L234.03,241.33 L235.35,241.30 L236.68,241.24 L238.00,241.28 L239.33,241.27 L240.65,241.33 L241.98,241.28 L243.30,241.32 L244.63,241.28 L245.95,241.31 L247.28,241.37 L248.60,241.41 L249.93,241.52 L251.25,241.53 L252.58,241.54 L253.90,241.42 L255.22,241.36 L256.55,241.30 L257.87,241.29 L259.20,241.30 L260.52,241.24 L261.85,241.19 L263.17,241.07 L264.50,241.09 L265.82,241.06 L267.15,241.15 L268.47,241.14 L269.80,241.23 L271.12,241.19 L272.45,241.15 L273.77,241.08 L275.09,240.99 L276.42,240.95 L277.74,241.05 L279.07,241.13 L280.39,241.27 L281.72,241.25 L283.04,241.30 L284.37,241.20 L285.69,241.26 L287.02,241.26 L288.34,241.38 L289.67,241.42 L290.99,241.47 L292.32,241.39 L293.64,241.36 L294.96,241.26 L296.29,241.32 L297.61,241.31 L298.94,241.43 L300.26,241.34 L301.59,241.35 L302.91,241.26 L304.24,241.28 L305.56,241.23 L306.89,241.26 L308.21,241.20 L309.54,241.17 L310.86,241.25 L312.18,241.39 L313.51,241.45 L314.83,241.42 L316.16,241.31 L317.48,241.24 L318.81,241.21 L320.13,241.26 L321.46,241.27 L322.78,241.32 L324.11,241.33 L325.43,241.32 L326.76,241.24 L328.08,241.13 L329.41,241.01 L330.73,241.05 L332.05,241.06 L333.38,241.21 L334.70,241.30 L336.03,241.46 L337.35,241.45 L338.68,241.47 L340.00,241.42 L341.33,241.38 L342.65,241.31 L343.98,241.28 L345.30,241.17 L346.63,241.20 L347.95,241.13 L349.28,241.21 L350.60,241.14" fill="none" stroke="#00CC96" stroke-width="1.75" stroke-dasharray="1.5 2.07" stroke-linejoin="round"/>
<path d="M60.50,28.70 L62.32,29.49 L64.15,31.32 L65.97,35.32 L67.80,40.19 L69.62,46.04 L71.45,52.72 L73.27,60.63 L75.10,68.54 L76.92,76.18 L78.75,83.14 L80.57,89.46 L82.39,96.07 L84.22,103.05 L86.04,109.33 L87.87,114.29 L89.69,118.64 L91.52,122.60 L93.34,126.44 L95.17,130.32 L96.99,134.17 L98.82,137.91 L100.64,141.46 L102.46,144.92 L104.29,148.22 L106.11,151.42 L107.94,154.40 L109.76,157.16 L111.59,159.65 L113.41,162.06 L115.24,164.34 L117.06,166.51 L118.88,168.42 L120.71,170.20 L122.53,171.82 L124.36,173.27 L126.18,174.69 L128.01,175.95 L129.83,177.28 L131.66,178.45 L133.48,179.74 L135.31,180.95 L137.13,182.19 L138.95,183.42 L140.78,184.67 L142.60,186.09 L144.43,187.60 L146.25,189.26 L148.08,190.72 L149.90,192.10 L151.73,193.07 L153.55,194.13 L155.38,194.92 L157.20,195.80 L159.02,196.67 L160.85,197.68 L162.67,198.64 L164.50,199.49 L166.32,200.25 L168.15,200.82 L169.97,201.30 L171.80,201.94 L173.62,202.47 L175.45,203.10 L177.27,203.79 L179.09,204.43 L180.92,205.15 L182.74,205.53 L184.57,206.03 L186.39,206.12 L188.22,206.38 L190.04,206.60 L191.87,207.01 L193.69,207.53 L195.52,207.95 L197.34,208.36 L199.16,208.58 L200.99,208.89 L202.81,209.18 L204.64,209.55 L206.46,209.99 L208.29,210.32 L210.11,210.54 L211.94,210.71 L213.76,210.80 L215.58,211.04 L217.41,211.42 L219.23,211.76 L221.06,211.95 L222.88,211.94 L224.71,211.82 L226.53,211.63 L228.36,211.55 L230.18,211.59 L232.01,211.66 L233.83,211.90 L235.65,212.05 L237.48,212.25 L239.30,212.24 L241.13,212.43 L242.95,212.49 L244.78,212.86 L246.60,213.01 L248.43,213.30 L250.25,213.22 L252.08,213.27 L253.90,213.30 L255.72,213.28 L257.55,213.35 L259.37,213.34 L261.20,213.41 L263.02,213.35 L264.85,213.46 L266.67,213.35 L268.50,213.27 L270.32,213.10 L272.15,213.01 L273.97,212.83 L275.79,212.86 L277.62,212.87 L279.44,213.01 L281.27,213.00 L283.09,213.17 L284.92,213.22 L286.74,213.43 L288.57,213.39 L290.39,213.42 L292.22,213.25 L294.04,213.21 L295.86,213.10 L297.69,213.14 L299.51,213.25 L301.34,213.26 L303.16,213.40 L304.99,213.33 L306.81,213.35 L308.64,213.26 L310.46,213.29 L312.28,213.27 L314.11,213.24 L315.93,213.30 L317.76,213.26 L319.58,213.27 L321.41,213.19 L323.23,213.21 L325.06,213.19 L326.88,213.34 L328.71,213.17 L330.53,213.27 L332.35,213.09 L334.18,213.05 L336.00,212.92 L337.83,212.81 L339.65,212.83 L341.48,212.94 L343.30,213.11 L345.13,213.12 L346.95,213.16 L348.78,213.19 L350.60,213.22" fill="none" stroke="#AB63FA" stroke-width="1.75" stroke-dasharray="8.6 2.15 1.35 2.15" stroke-linejoin="round"/>
</g>
<g clip-path="url(#c2)">
<path d="M60.50,331.00 L61.82,331.15 L63.15,331.48 L64.47,332.37 L65.80,333.80 L67.12,335.55 L68.45,337.94 L69.77,340.80 L71.10,343.91 L72.42,347.31 L73.75,351.16 L75.07,355.15 L76.40,359.02 L77.72,362.77 L79.05,366.48 L80.37,370.23 L81.69,373.91 L83.02,377.44 L84.34,380.94 L85.67,384.79 L86.99,389.14 L88.32,394.14 L89.64,399.37 L90.97,404.75 L92.29,410.39 L93.62,415.98 L94.94,420.84 L96.27,425.01 L97.59,428.62 L98.92,432.08 L100.24,435.32 L101.56,438.61 L102.89,441.85 L104.21,445.13 L105.54,448.31 L106.86,451.58 L108.19,454.75 L109.51,457.73 L110.84,460.54 L112.16,463.26 L113.49,465.90 L114.81,468.51 L116.14,470.95 L117.46,473.04 L118.78,474.85 L120.11,476.57 L121.43,478.19 L122.76,479.94 L124.08,481.35 L125.41,482.84 L126.73,484.08 L128.06,485.50 L129.38,486.81 L130.71,488.22 L132.03,489.36 L133.36,490.43 L134.68,491.39 L136.01,492.21 L137.33,493.04 L138.65,494.01 L139.98,495.01 L141.30,496.14 L142.63,497.35 L143.95,498.58 L145.28,499.73 L146.60,500.67 L147.93,501.49 L149.25,502.19 L150.58,502.89 L151.90,503.83 L153.23,504.59 L154.55,505.62 L155.88,506.44 L157.20,507.47 L158.52,508.23 L159.85,509.05 L161.17,509.58 L162.50,510.11 L163.82,510.56 L165.15,510.90 L166.47,511.33 L167.80,511.87 L169.12,512.53 L170.45,512.93 L171.77,513.25 L173.10,513.54 L174.42,513.81 L175.75,514.20 L177.07,514.57 L178.39,514.86 L179.72,515.47 L181.04,515.94 L182.37,516.77 L183.69,516.67 L185.02,516.92 L186.34,516.72 L187.67,517.29 L188.99,517.35 L190.32,517.95 L191.64,517.93 L192.97,518.16 L194.29,518.16 L195.62,518.44 L196.94,518.41 L198.26,518.60 L199.59,518.88 L200.91,519.30 L202.24,519.67 L203.56,520.40 L204.89,520.85 L206.21,521.50 L207.54,522.00 L208.86,522.46 L210.19,522.54 L211.51,522.50 L212.84,522.29 L214.16,521.97 L215.48,521.85 L216.81,521.77 L218.13,521.64 L219.46,521.45 L220.78,521.35 L222.11,521.35 L223.43,521.36 L224.76,521.54 L226.08,521.46 L227.41,521.58 L228.73,521.50 L230.06,521.69 L231.38,521.98 L232.71,522.39 L234.03,522.73 L235.35,522.82 L236.68,523.12 L238.00,523.17 L239.33,523.51 L240.65,523.55 L241.98,523.56 L243.30,523.39 L244.63,523.44 L245.95,523.64 L247.28,523.76 L248.60,523.89 L249.93,523.67 L251.25,523.86 L252.58,523.83 L253.90,524.15 L255.22,524.27 L256.55,524.57 L257.87,524.49 L259.20,524.47 L260.52,524.13 L261.85,524.02 L263.17,523.78 L264.50,523.93 L265.82,523.68 L267.15,523.65 L268.47,523.40 L269.80,523.39 L271.12,523.68 L272.45,523.71 L273.77,523.88 L275.09,523.44 L276.42,523.50 L277.74,523.16 L279.07,523.40 L280.39,523.26 L281.72,523.29 L283.04,523.25 L284.37,523.27 L285.69,523.56 L287.02,523.47 L288.34,523.49 L289.67,523.27 L290.99,523.43 L292.32,523.42 L293.64,523.67 L294.96,523.95 L296.29,523.88 L297.61,523.77 L298.94,523.61 L300.26,523.59 L301.59,523.56 L302.91,523.74 L304.24,523.66 L305.56,523.26 L306.89,522.95 L308.21,522.95 L309.54,523.00 L310.86,523.21 L312.18,523.32 L313.51,523.31 L314.83,523.15 L316.16,523.07 L317.48,523.22 L318.81,523.23 L320.13,523.62 L321.46,523.55 L322.78,523.81 L324.11,523.68 L325.43,523.91 L326.76,523.79 L328.08,523.74 L329.41,523.64 L330.73,523.79 L332.05,524.02 L333.38,524.05 L334.70,523.94 L336.03,523.51 L337.35,523.19 L338.68,522.96 L340.00,523.32 L341.33,523.43 L342.65,523.53 L343.98,523.40 L345.30,523.24 L346.63,522.92 L347.95,522.85 L349.28,522.82 L350.60,522.91 L350.60,545.26 L349.28,545.29 L347.95,545.41 L346.63,545.38 L345.30,545.33 L343.98,544.98 L342.65,544.89 L341.33,544.76 L340.00,544.97 L338.68,544.87 L337.35,544.94 L336.03,544.83 L334.70,544.99 L333.38,545.00 L332.05,545.37 L330.73,545.55 L329.41,545.68 L328.08,545.31 L326.76,545.03 L325.43,544.61 L324.11,544.57 L322.78,544.83 L321.46,544.90 L320.13,544.73 L318.81,544.63 L317.48,544.55 L316.16,544.81 L314.83,544.95 L313.51,545.15 L312.18,545.22 L310.86,544.97 L309.54,544.72 L308.21,544.22 L306.89,544.26 L305.56,544.31 L304.24,544.91 L302.91,545.09 L301.59,545.06 L300.26,544.94 L298.94,544.66 L297.61,544.53 L296.29,544.41 L294.96,544.53 L293.64,544.45 L292.32,544.33 L290.99,544.31 L289.67,544.08 L288.34,544.36 L287.02,544.44 L285.69,544.60 L284.37,544.50 L283.04,544.43 L281.72,544.39 L280.39,544.06 L279.07,543.98 L277.74,543.75 L276.42,543.98 L275.09,544.23 L273.77,544.49 L272.45,544.69 L271.12,544.61 L269.80,544.86 L268.47,544.83 L267.15,545.27 L265.82,545.20 L264.50,545.47 L263.17,545.39 L261.85,545.41 L260.52,545.08 L259.20,545.04 L257.87,544.85 L256.55,544.76 L255.22,544.47 L253.90,544.16 L252.58,543.96 L251.25,543.83 L249.93,544.05 L248.60,543.84 L247.28,543.93 L245.95,543.36 L244.63,543.56 L243.30,543.43 L241.98,543.76 L240.65,543.47 L239.33,543.28 L238.00,542.66 L236.68,542.58 L235.35,542.53 L234.03,542.52 L232.71,542.34 L231.38,541.60 L230.06,541.32 L228.73,540.98 L227.41,541.42 L226.08,541.38 L224.76,541.58 L223.43,541.10 L222.11,540.74 L220.78,540.50 L219.46,540.64 L218.13,540.85 L216.81,541.39 L215.48,541.50 L214.16,541.67 L212.84,541.53 L211.51,541.49 L210.19,541.28 L208.86,541.27 L207.54,540.94 L206.21,540.80 L204.89,540.14 L203.56,539.63 L202.24,538.94 L200.91,538.65 L199.59,538.36 L198.26,538.31 L196.94,538.17 L195.62,538.14 L194.29,537.83 L192.97,537.64 L191.64,537.06 L190.32,536.99 L188.99,536.44 L187.67,536.40 L186.34,535.71 L185.02,535.44 L183.69,535.04 L182.37,535.08 L181.04,534.98 L179.72,534.69 L178.39,534.44 L177.07,533.82 L175.75,533.59 L174.42,532.96 L173.10,532.61 L171.77,532.09 L170.45,531.85 L169.12,531.24 L167.80,530.68 L166.47,529.95 L165.15,529.66 L163.82,529.10 L162.50,528.97 L161.17,528.04 L159.85,527.29 L158.52,526.00 L157.20,525.23 L155.88,524.19 L154.55,523.35 L153.23,522.66 L151.90,521.80 L150.58,521.01 L149.25,520.10 L147.93,519.45 L146.60,518.56 L145.28,518.09 L143.95,517.39 L142.63,516.69 L141.30,515.55 L139.98,514.62 L138.65,513.47 L137.33,512.79 L136.01,512.21 L134.68,511.89 L133.36,511.28 L132.03,510.58 L130.71,509.64 L129.38,508.58 L128.06,507.52 L126.73,506.35 L125.41,505.07 L124.08,503.58 L122.76,502.08 L121.43,500.45 L120.11,498.91 L118.78,497.27 L117.46,495.70 L116.14,493.96 L114.81,492.06 L113.49,489.89 L112.16,487.56 L110.84,484.88 L109.51,482.13 L108.19,479.20 L106.86,476.11 L105.54,472.70 L104.21,469.19 L102.89,465.41 L101.56,461.43 L100.24,457.48 L98.92,453.34 L97.59,449.00 L96.27,444.31 L94.94,439.33 L93.62,433.51 L92.29,427.34 L90.97,421.09 L89.64,415.21 L88.32,409.32 L86.99,403.72 L85.67,398.58 L84.34,393.85 L83.02,389.25 L81.69,384.60 L80.37,379.78 L79.05,374.99 L77.72,370.20 L76.40,365.39 L75.07,360.38 L73.75,355.10 L72.42,350.11 L71.10,345.95 L69.77,342.41 L68.45,339.16 L67.12,336.42 L65.80,334.37 L64.47,332.70 L63.15,331.63 L61.82,331.19 L60.50,331.00Z" fill="#636EFA" fill-opacity="0.2" stroke="#636EFA" stroke-opacity="0.2" stroke-width="0.6"/>
<path d="M60.50,331.00 L61.82,331.15 L63.15,331.48 L64.47,332.28 L65.80,333.58 L67.12,335.18 L68.45,337.41 L69.77,340.14 L71.10,343.16 L72.42,346.32 L73.75,349.96 L75.07,353.85 L76.40,357.76 L77.72,361.46 L79.05,365.21 L80.37,368.93 L81.69,372.53 L83.02,375.92 L84.34,379.18 L85.67,382.42 L86.99,385.70 L88.32,389.02 L89.64,392.31 L90.97,395.51 L92.29,398.69 L93.62,401.90 L94.94,405.23 L96.27,408.77 L97.59,412.31 L98.92,415.77 L100.24,418.99 L101.56,421.88 L102.89,424.65 L104.21,427.12 L105.54,429.68 L106.86,431.93 L108.19,434.27 L109.51,436.35 L110.84,438.45 L112.16,440.27 L113.49,442.05 L114.81,443.58 L116.14,445.19 L117.46,446.70 L118.78,448.24 L120.11,449.56 L121.43,450.74 L122.76,451.74 L124.08,452.71 L125.41,453.68 L126.73,454.60 L128.06,455.49 L129.38,456.51 L130.71,457.46 L132.03,458.45 L133.36,459.46 L134.68,460.51 L136.01,461.53 L137.33,462.46 L138.65,463.18 L139.98,463.97 L141.30,464.64 L142.63,465.39 L143.95,465.98 L145.28,466.51 L146.60,467.40 L147.93,467.94 L149.25,468.68 L150.58,468.93 L151.90,469.64 L153.23,470.42 L154.55,471.39 L155.88,472.59 L157.20,473.66 L158.52,474.65 L159.85,475.87 L161.17,476.68 L162.50,477.80 L163.82,478.42 L165.15,479.39 L166.47,479.92 L167.80,480.45 L169.12,480.87 L170.45,481.27 L171.77,481.63 L173.10,481.84 L174.42,482.37 L175.75,482.91 L177.07,483.46 L178.39,483.59 L179.72,483.78 L181.04,483.53 L182.37,483.83 L183.69,484.26 L185.02,485.03 L186.34,485.74 L187.67,486.32 L188.99,486.75 L190.32,487.01 L191.64,487.22 L192.97,487.39 L194.29,487.62 L195.62,488.08 L196.94,488.57 L198.26,489.14 L199.59,489.33 L200.91,489.44 L202.24,489.41 L203.56,489.75 L204.89,490.05 L206.21,490.39 L207.54,490.53 L208.86,490.84 L210.19,490.98 L211.51,491.36 L212.84,491.54 L214.16,491.76 L215.48,491.78 L216.81,491.85 L218.13,491.93 L219.46,491.91 L220.78,492.31 L222.11,492.53 L223.43,492.74 L224.76,492.70 L226.08,492.55 L227.41,492.55 L228.73,492.54 L230.06,492.68 L231.38,492.77 L232.71,492.73 L234.03,492.58 L235.35,492.56 L236.68,492.53 L238.00,492.85 L239.33,492.64 L240.65,492.89 L241.98,492.50 L243.30,492.53 L244.63,492.50 L245.95,492.86 L247.28,493.09 L248.60,493.39 L249.93,493.50 L251.25,493.45 L252.58,493.34 L253.90,493.47 L255.22,493.34 L256.55,493.34 L257.87,493.00 L259.20,492.94 L260.52,492.94 L261.85,493.29 L263.17,493.15 L264.50,492.98 L265.82,492.89 L267.15,492.75 L268.47,492.97 L269.80,493.14 L271.12,493.37 L272.45,493.25 L273.77,493.32 L275.09,493.19 L276.42,493.19 L277.74,493.11 L279.07,493.15 L280.39,493.11 L281.72,493.28 L283.04,493.40 L284.37,493.39 L285.69,493.40 L287.02,493.12 L288.34,493.27 L289.67,493.15 L290.99,493.27 L292.32,492.92 L293.64,492.76 L294.96,492.59 L296.29,492.60 L297.61,492.78 L298.94,492.91 L300.26,493.01 L301.59,493.00 L302.91,493.03 L304.24,493.07 L305.56,493.26 L306.89,493.29 L308.21,493.20 L309.54,492.95 L310.86,492.86 L312.18,493.11 L313.51,493.40 L314.83,493.65 L316.16,493.56 L317.48,493.33 L318.81,493.16 L320.13,493.30 L321.46,493.58 L322.78,493.85 L324.11,493.69 L325.43,493.79 L326.76,493.42 L328.08,493.75 L329.41,493.49 L330.73,493.45 L332.05,493.10 L333.38,493.21 L334.70,493.32 L336.03,493.56 L337.35,493.55 L338.68,493.25 L340.00,493.20 L341.33,493.43 L342.65,493.80 L343.98,493.99 L345.30,494.14 L346.63,494.02 L347.95,494.10 L349.28,494.00 L350.60,493.92 L350.60,516.15 L349.28,516.14 L347.95,516.44 L346.63,516.45 L345.30,516.65 L343.98,516.42 L342.65,516.01 L341.33,515.48 L340.00,515.16 L338.68,514.98 L337.35,515.21 L336.03,515.03 L334.70,515.13 L333.38,514.84 L332.05,515.13 L330.73,515.15 L329.41,515.42 L328.08,515.66 L326.76,515.72 L325.43,515.89 L324.11,516.15 L322.78,516.20 L321.46,516.20 L320.13,515.94 L318.81,515.84 L317.48,515.53 L316.16,515.51 L314.83,515.56 L313.51,515.47 L312.18,515.53 L310.86,515.41 L309.54,515.48 L308.21,515.44 L306.89,515.69 L305.56,515.85 L304.24,515.81 L302.91,515.54 L301.59,515.15 L300.26,514.93 L298.94,514.99 L297.61,515.12 L296.29,515.34 L294.96,515.29 L293.64,515.42 L292.32,515.19 L290.99,515.19 L289.67,514.80 L288.34,514.72 L287.02,514.76 L285.69,514.99 L284.37,515.19 L283.04,515.04 L281.72,514.99 L280.39,514.64 L279.07,514.72 L277.74,514.87 L276.42,515.42 L275.09,515.70 L273.77,515.88 L272.45,515.60 L271.12,515.35 L269.80,514.98 L268.47,514.95 L267.15,515.03 L265.82,515.20 L264.50,515.38 L263.17,515.19 L261.85,514.80 L260.52,514.19 L259.20,514.26 L257.87,514.61 L256.55,515.20 L255.22,515.38 L253.90,515.43 L252.58,515.19 L251.25,515.06 L249.93,515.03 L248.60,514.73 L247.28,514.58 L245.95,514.24 L244.63,514.31 L243.30,514.42 L241.98,514.65 L240.65,514.68 L239.33,514.36 L238.00,514.07 L236.68,513.46 L235.35,513.55 L234.03,513.54 L232.71,513.96 L231.38,513.87 L230.06,514.04 L228.73,513.67 L227.41,513.63 L226.08,513.33 L224.76,513.27 L223.43,513.30 L222.11,513.21 L220.78,513.26 L219.46,513.11 L218.13,513.06 L216.81,512.64 L215.48,512.42 L214.16,512.39 L212.84,512.04 L211.51,512.07 L210.19,511.81 L208.86,511.91 L207.54,511.47 L206.21,511.54 L204.89,511.08 L203.56,510.66 L202.24,510.15 L200.91,509.86 L199.59,509.55 L198.26,509.27 L196.94,509.00 L195.62,508.43 L194.29,507.87 L192.97,507.39 L191.64,507.03 L190.32,506.75 L188.99,506.57 L187.67,506.20 L186.34,505.72 L185.02,505.33 L183.69,504.88 L182.37,504.73 L181.04,504.58 L179.72,504.63 L178.39,504.29 L177.07,503.90 L175.75,503.20 L174.42,502.46 L173.10,501.95 L171.77,501.70 L170.45,501.60 L169.12,501.36 L167.80,500.78 L166.47,500.24 L165.15,499.47 L163.82,498.68 L162.50,497.76 L161.17,496.90 L159.85,495.74 L158.52,494.64 L157.20,493.49 L155.88,492.32 L154.55,491.31 L153.23,490.60 L151.90,489.82 L150.58,489.06 L149.25,488.22 L147.93,487.42 L146.60,486.37 L145.28,485.55 L143.95,484.37 L142.63,483.52 L141.30,482.51 L139.98,481.64 L138.65,480.37 L137.33,479.34 L136.01,477.94 L134.68,476.93 L133.36,475.63 L132.03,474.77 L130.71,473.35 L129.38,472.47 L128.06,471.14 L126.73,470.21 L125.41,469.18 L124.08,468.29 L122.76,467.47 L121.43,466.47 L120.11,465.43 L118.78,464.04 L117.46,462.62 L116.14,460.99 L114.81,459.52 L113.49,457.98 L112.16,456.48 L110.84,454.91 L109.51,453.33 L108.19,451.43 L106.86,449.38 L105.54,446.95 L104.21,444.36 L102.89,441.61 L101.56,438.81 L100.24,435.74 L98.92,432.36 L97.59,428.65 L96.27,424.81 L94.94,421.02 L93.62,417.40 L92.29,413.85 L90.97,410.25 L89.64,406.54 L88.32,402.75 L86.99,398.92 L85.67,395.13 L84.34,391.25 L83.02,387.26 L81.69,383.02 L80.37,378.52 L79.05,373.77 L77.72,368.91 L76.40,364.08 L75.07,359.05 L73.75,353.90 L72.42,349.13 L71.10,345.20 L69.77,341.75 L68.45,338.63 L67.12,336.05 L65.80,334.16 L64.47,332.61 L63.15,331.63 L61.82,331.19 L60.50,331.00Z" fill="#00CC96" fill-opacity="0.2" stroke="#00CC96" stroke-opacity="0.2" stroke-width="0.6"/>
<path d="M60.50,331.00 L62.32,331.10 L64.15,331.23 L65.97,331.39 L67.80,331.57 L69.62,331.77 L71.45,331.98 L73.27,332.20 L75.10,332.43 L76.92,332.68 L78.75,332.95 L80.57,333.27 L82.39,333.62 L84.22,334.00 L86.04,334.47 L87.87,334.89 L89.69,335.46 L91.52,335.87 L93.34,336.51 L95.17,336.92 L96.99,337.47 L98.82,337.80 L100.64,338.26 L102.46,338.66 L104.29,339.21 L106.11,339.72 L107.94,340.27 L109.76,340.78 L111.59,341.29 L113.41,341.73 L115.24,342.23 L117.06,342.75 L118.88,343.22 L120.71,343.58 L122.53,343.90 L124.36,344.20 L126.18,344.55 L128.01,345.01 L129.83,345.52 L131.66,345.90 L133.48,346.50 L135.31,346.80 L137.13,347.41 L138.95,347.61 L140.78,348.01 L142.60,348.04 L144.43,348.41 L146.25,348.78 L148.08,349.66 L149.90,350.42 L151.73,351.08 L153.55,351.26 L155.38,351.38 L157.20,351.40 L159.02,351.79 L160.85,352.24 L162.67,352.61 L164.50,352.71 L166.32,352.92 L168.15,353.07 L169.97,353.37 L171.80,353.76 L173.62,353.95 L175.45,354.03 L177.27,354.01 L179.09,353.93 L180.92,354.00 L182.74,354.01 L184.57,354.34 L186.39,354.36 L188.22,354.83 L190.04,354.93 L191.87,355.36 L193.69,355.33 L195.52,355.44 L197.34,355.15 L199.16,355.37 L200.99,355.47 L202.81,355.91 L204.64,356.30 L206.46,356.64 L208.29,356.90 L210.11,356.84 L211.94,356.80 L213.76,356.66 L215.58,356.77 L217.41,356.72 L219.23,356.85 L221.06,356.79 L222.88,356.99 L224.71,357.00 L226.53,357.06 L228.36,356.71 L230.18,356.67 L232.01,356.66 L233.83,356.75 L235.65,356.82 L237.48,356.73 L239.30,356.41 L241.13,356.03 L242.95,355.78 L244.78,355.69 L246.60,355.87 L248.43,356.30 L250.25,356.63 L252.08,356.88 L253.90,356.67 L255.72,356.59 L257.55,356.28 L259.37,356.18 L261.20,356.04 L263.02,356.23 L264.85,356.32 L266.67,356.32 L268.50,356.36 L270.32,356.56 L272.15,356.62 L273.97,356.66 L275.79,356.57 L277.62,356.58 L279.44,356.62 L281.27,356.72 L283.09,356.98 L284.92,356.74 L286.74,356.65 L288.57,356.38 L290.39,356.41 L292.22,356.45 L294.04,356.73 L295.86,356.98 L297.69,357.16 L299.51,357.14 L301.34,357.22 L303.16,356.94 L304.99,356.73 L306.81,356.46 L308.64,356.26 L310.46,356.31 L312.28,356.34 L314.11,356.52 L315.93,356.43 L317.76,356.73 L319.58,356.52 L321.41,356.70 L323.23,356.78 L325.06,357.14 L326.88,357.19 L328.71,357.36 L330.53,357.41 L332.35,357.12 L334.18,357.17 L336.00,356.89 L337.83,356.89 L339.65,356.74 L341.48,357.02 L343.30,356.96 L345.13,356.99 L346.95,356.75 L348.78,356.72 L350.60,356.60 L350.60,376.07 L348.78,375.80 L346.95,375.79 L345.13,376.05 L343.30,376.43 L341.48,376.67 L339.65,376.62 L337.83,376.54 L336.00,376.39 L334.18,376.37 L332.35,376.49 L330.53,376.48 L328.71,376.66 L326.88,376.68 L325.06,376.80 L323.23,376.47 L321.41,376.35 L319.58,375.83 L317.76,375.77 L315.93,375.63 L314.11,375.92 L312.28,376.27 L310.46,376.52 L308.64,376.65 L306.81,376.36 L304.99,376.19 L303.16,375.86 L301.34,375.83 L299.51,376.03 L297.69,376.13 L295.86,376.44 L294.04,376.37 L292.22,376.34 L290.39,376.05 L288.57,375.92 L286.74,375.78 L284.92,375.83 L283.09,376.09 L281.27,376.36 L279.44,376.47 L277.62,376.65 L275.79,376.52 L273.97,376.55 L272.15,376.25 L270.32,375.98 L268.50,375.53 L266.67,375.44 L264.85,375.49 L263.02,375.83 L261.20,376.07 L259.37,376.14 L257.55,376.02 L255.72,375.93 L253.90,375.91 L252.08,376.00 L250.25,376.07 L248.43,376.04 L246.60,375.85 L244.78,375.56 L242.95,375.17 L241.13,374.95 L239.30,374.92 L237.48,375.01 L235.65,375.13 L233.83,375.46 L232.01,375.51 L230.18,375.80 L228.36,375.56 L226.53,375.51 L224.71,374.96 L222.88,374.87 L221.06,374.83 L219.23,375.03 L217.41,375.05 L215.58,374.82 L213.76,374.53 L211.94,374.32 L210.11,374.53 L208.29,374.68 L206.46,374.89 L204.64,374.65 L202.81,374.50 L200.99,374.16 L199.16,374.16 L197.34,374.14 L195.52,374.26 L193.69,374.09 L191.87,373.84 L190.04,373.38 L188.22,373.23 L186.39,373.24 L184.57,373.49 L182.74,373.59 L180.92,373.48 L179.09,373.03 L177.27,372.68 L175.45,372.31 L173.62,372.07 L171.80,371.85 L169.97,371.38 L168.15,371.13 L166.32,370.58 L164.50,370.80 L162.67,370.41 L160.85,370.70 L159.02,370.11 L157.20,369.96 L155.38,368.93 L153.55,368.43 L151.73,367.63 L149.90,367.54 L148.08,367.76 L146.25,367.85 L144.43,367.85 L142.60,367.16 L140.78,366.78 L138.95,365.97 L137.13,365.56 L135.31,364.82 L133.48,364.30 L131.66,363.71 L129.83,363.36 L128.01,362.97 L126.18,362.62 L124.36,362.24 L122.53,361.95 L120.71,361.61 L118.88,361.22 L117.06,360.70 L115.24,360.10 L113.41,359.42 L111.59,358.74 L109.76,357.92 L107.94,357.06 L106.11,356.20 L104.29,355.26 L102.46,354.43 L100.64,353.32 L98.82,352.27 L96.99,351.08 L95.17,350.05 L93.34,348.81 L91.52,347.69 L89.69,346.42 L87.87,345.15 L86.04,343.79 L84.22,342.48 L82.39,341.13 L80.57,339.86 L78.75,338.65 L76.92,337.53 L75.10,336.46 L73.27,335.39 L71.45,334.34 L69.62,333.39 L67.80,332.58 L65.97,331.99 L64.15,331.56 L62.32,331.21 L60.50,331.00Z" fill="#AB63FA" fill-opacity="0.2" stroke="#AB63FA" stroke-opacity="0.2" stroke-width="0.6"/>
<path d="M60.5,331.4 L350.6,331.4" fill="none" stroke="#EF553B" stroke-width="1.75" stroke-linejoin="round"/>
<path d="M60.50,331.00 L61.82,331.17 L63.15,331.55 L64.47,332.53 L65.80,334.08 L67.12,335.99 L68.45,338.55 L69.77,341.60 L71.10,344.94 L72.42,348.73 L73.75,353.15 L75.07,357.79 L76.40,362.24 L77.72,366.51 L79.05,370.77 L80.37,375.02 L81.69,379.26 L83.02,383.37 L84.34,387.44 L85.67,391.73 L86.99,396.48 L88.32,401.72 L89.64,407.23 L90.97,412.84 L92.29,418.81 L93.62,424.69 L94.94,430.06 L96.27,434.63 L97.59,438.79 L98.92,442.65 L100.24,446.38 L101.56,450.01 L102.89,453.64 L104.21,457.18 L105.54,460.56 L106.86,463.83 L108.19,466.93 L109.51,469.88 L110.84,472.60 L112.16,475.30 L113.49,477.80 L114.81,480.22 L116.14,482.38 L117.46,484.41 L118.78,486.14 L120.11,487.85 L121.43,489.47 L122.76,491.06 L124.08,492.51 L125.41,493.92 L126.73,495.22 L128.06,496.44 L129.38,497.63 L130.71,498.85 L132.03,499.78 L133.36,500.76 L134.68,501.53 L136.01,502.40 L137.33,503.19 L138.65,504.14 L139.98,505.09 L141.30,505.99 L142.63,506.98 L143.95,507.87 L145.28,508.73 L146.60,509.53 L147.93,510.44 L149.25,511.32 L150.58,512.15 L151.90,512.95 L153.23,513.64 L154.55,514.41 L155.88,515.30 L157.20,516.22 L158.52,517.06 L159.85,517.88 L161.17,518.56 L162.50,519.21 L163.82,519.67 L165.15,520.12 L166.47,520.40 L167.80,521.05 L169.12,521.53 L170.45,522.13 L171.77,522.42 L173.10,522.76 L174.42,523.04 L175.75,523.52 L177.07,524.15 L178.39,524.62 L179.72,525.19 L181.04,525.45 L182.37,525.85 L183.69,525.87 L185.02,526.12 L186.34,526.21 L187.67,526.53 L188.99,526.64 L190.32,527.03 L191.64,527.20 L192.97,527.57 L194.29,527.79 L195.62,528.15 L196.94,528.38 L198.26,528.60 L199.59,528.84 L200.91,529.09 L202.24,529.51 L203.56,529.98 L204.89,530.50 L206.21,530.89 L207.54,531.20 L208.86,531.54 L210.19,531.70 L211.51,531.86 L212.84,531.75 L214.16,531.65 L215.48,531.51 L216.81,531.41 L218.13,531.21 L219.46,530.97 L220.78,530.98 L222.11,531.03 L223.43,531.27 L224.76,531.52 L226.08,531.54 L227.41,531.69 L228.73,531.63 L230.06,531.84 L231.38,531.87 L232.71,532.10 L234.03,532.12 L235.35,532.23 L236.68,532.39 L238.00,532.64 L239.33,532.99 L240.65,533.20 L241.98,533.28 L243.30,533.19 L244.63,533.24 L245.95,533.17 L247.28,533.46 L248.60,533.50 L249.93,533.74 L251.25,533.76 L252.58,534.02 L253.90,534.11 L255.22,534.35 L256.55,534.44 L257.87,534.55 L259.20,534.56 L260.52,534.59 L261.85,534.62 L263.17,534.56 L264.50,534.52 L265.82,534.30 L267.15,534.22 L268.47,534.11 L269.80,534.05 L271.12,534.14 L272.45,534.15 L273.77,534.28 L275.09,534.08 L276.42,534.10 L277.74,533.96 L279.07,533.99 L280.39,534.05 L281.72,533.97 L283.04,534.00 L284.37,533.81 L285.69,534.07 L287.02,533.94 L288.34,534.18 L289.67,534.01 L290.99,534.22 L292.32,534.11 L293.64,534.21 L294.96,534.23 L296.29,534.24 L297.61,534.27 L298.94,534.16 L300.26,534.07 L301.59,534.01 L302.91,534.21 L304.24,534.38 L305.56,534.30 L306.89,534.27 L308.21,534.20 L309.54,534.32 L310.86,534.52 L312.18,534.57 L313.51,534.44 L314.83,534.13 L316.16,533.93 L317.48,533.84 L318.81,533.88 L320.13,534.21 L321.46,534.32 L322.78,534.51 L324.11,534.38 L325.43,534.50 L326.76,534.48 L328.08,534.46 L329.41,534.42 L330.73,534.34 L332.05,534.27 L333.38,534.24 L334.70,534.29 L336.03,534.25 L337.35,534.17 L338.68,534.13 L340.00,534.03 L341.33,533.99 L342.65,534.00 L343.98,534.24 L345.30,534.36 L346.63,534.36 L347.95,534.30 L349.28,534.16 L350.60,534.16" fill="none" stroke="#636EFA" stroke-width="1.75" stroke-dasharray="5 2.15" stroke-linejoin="round"/>
<path d="M60.50,331.00 L61.82,331.17 L63.15,331.55 L64.47,332.45 L65.80,333.87 L67.12,335.61 L68.45,338.02 L69.77,340.95 L71.10,344.18 L72.42,347.74 L73.75,351.95 L75.07,356.47 L76.40,360.93 L77.72,365.16 L79.05,369.43 L80.37,373.62 L81.69,377.68 L83.02,381.51 L84.34,385.20 L85.67,388.77 L86.99,392.35 L88.32,395.91 L89.64,399.47 L90.97,402.96 L92.29,406.39 L93.62,409.81 L94.94,413.30 L96.27,416.96 L97.59,420.58 L98.92,424.10 L100.24,427.32 L101.56,430.30 L102.89,433.15 L104.21,435.80 L105.54,438.37 L106.86,440.66 L108.19,442.82 L109.51,444.79 L110.84,446.73 L112.16,448.48 L113.49,450.10 L114.81,451.61 L116.14,453.09 L117.46,454.58 L118.78,456.04 L120.11,457.41 L121.43,458.56 L122.76,459.57 L124.08,460.46 L125.41,461.36 L126.73,462.22 L128.06,463.16 L129.38,464.15 L130.71,465.19 L132.03,466.38 L133.36,467.56 L134.68,468.82 L136.01,469.97 L137.33,471.11 L138.65,472.00 L139.98,472.86 L141.30,473.60 L142.63,474.35 L143.95,475.14 L145.28,475.96 L146.60,476.89 L147.93,477.63 L149.25,478.42 L150.58,479.05 L151.90,479.96 L153.23,480.85 L154.55,481.94 L155.88,482.98 L157.20,484.02 L158.52,484.97 L159.85,485.96 L161.17,486.87 L162.50,487.68 L163.82,488.43 L165.15,489.06 L166.47,489.73 L167.80,490.25 L169.12,490.90 L170.45,491.34 L171.77,491.82 L173.10,492.27 L174.42,492.78 L175.75,493.33 L177.07,493.74 L178.39,493.91 L179.72,494.15 L181.04,494.22 L182.37,494.69 L183.69,495.12 L185.02,495.81 L186.34,496.19 L187.67,496.57 L188.99,496.82 L190.32,497.05 L191.64,497.33 L192.97,497.60 L194.29,498.00 L195.62,498.36 L196.94,498.87 L198.26,499.17 L199.59,499.53 L200.91,499.64 L202.24,499.91 L203.56,500.14 L204.89,500.45 L206.21,500.64 L207.54,500.76 L208.86,500.96 L210.19,501.11 L211.51,501.37 L212.84,501.61 L214.16,501.89 L215.48,502.09 L216.81,502.24 L218.13,502.50 L219.46,502.57 L220.78,502.79 L222.11,502.80 L223.43,502.80 L224.76,502.58 L226.08,502.57 L227.41,502.65 L228.73,502.83 L230.06,502.94 L231.38,502.93 L232.71,502.85 L234.03,502.77 L235.35,502.93 L236.68,503.14 L238.00,503.60 L239.33,503.84 L240.65,504.02 L241.98,503.83 L243.30,503.44 L244.63,503.16 L245.95,503.05 L247.28,503.36 L248.60,503.64 L249.93,504.04 L251.25,504.16 L252.58,504.26 L253.90,504.33 L255.22,504.30 L256.55,504.28 L257.87,504.07 L259.20,504.12 L260.52,504.14 L261.85,504.43 L263.17,504.43 L264.50,504.45 L265.82,504.22 L267.15,504.19 L268.47,504.14 L269.80,504.27 L271.12,504.24 L272.45,504.34 L273.77,504.34 L275.09,504.38 L276.42,504.32 L277.74,504.28 L279.07,504.28 L280.39,504.26 L281.72,504.35 L283.04,504.31 L284.37,504.24 L285.69,504.19 L287.02,504.11 L288.34,504.23 L289.67,504.25 L290.99,504.31 L292.32,504.17 L293.64,504.08 L294.96,503.99 L296.29,503.93 L297.61,504.07 L298.94,504.13 L300.26,504.29 L301.59,504.31 L302.91,504.42 L304.24,504.30 L305.56,504.32 L306.89,504.30 L308.21,504.37 L309.54,504.37 L310.86,504.31 L312.18,504.27 L313.51,504.23 L314.83,504.29 L316.16,504.29 L317.48,504.35 L318.81,504.49 L320.13,504.57 L321.46,504.70 L322.78,504.65 L324.11,504.43 L325.43,504.23 L326.76,504.07 L328.08,504.24 L329.41,504.25 L330.73,504.45 L332.05,504.35 L333.38,504.35 L334.70,504.26 L336.03,504.30 L337.35,504.23 L338.68,504.22 L340.00,504.21 L341.33,504.44 L342.65,504.61 L343.98,504.79 L345.30,504.82 L346.63,504.80 L347.95,504.83 L349.28,504.80 L350.60,504.79" fill="none" stroke="#00CC96" stroke-width="1.75" stroke-dasharray="1.5 2.07" stroke-linejoin="round"/>
<path d="M60.50,331.00 L62.32,331.09 L64.15,331.27 L65.97,331.50 L67.80,331.82 L69.62,332.30 L71.45,332.88 L73.27,333.53 L75.10,334.21 L76.92,334.89 L78.75,335.62 L80.57,336.43 L82.39,337.29 L84.22,338.18 L86.04,339.09 L87.87,340.03 L89.69,340.95 L91.52,341.86 L93.34,342.70 L95.17,343.49 L96.99,344.19 L98.82,344.93 L100.64,345.69 L102.46,346.43 L104.29,347.16 L106.11,347.88 L107.94,348.62 L109.76,349.29 L111.59,350.01 L113.41,350.56 L115.24,351.09 L117.06,351.50 L118.88,351.95 L120.71,352.38 L122.53,352.90 L124.36,353.39 L126.18,353.76 L128.01,354.03 L129.83,354.22 L131.66,354.50 L133.48,354.77 L135.31,355.20 L137.13,355.61 L138.95,356.14 L140.78,356.67 L142.60,357.17 L144.43,357.56 L146.25,357.90 L148.08,358.41 L149.90,358.98 L151.73,359.56 L153.55,360.10 L155.38,360.39 L157.20,360.76 L159.02,361.00 L160.85,361.33 L162.67,361.52 L164.50,361.69 L166.32,361.80 L168.15,361.82 L169.97,362.02 L171.80,362.16 L173.62,362.47 L175.45,362.69 L177.27,363.00 L179.09,363.13 L180.92,363.30 L182.74,363.44 L184.57,363.67 L186.39,363.86 L188.22,363.96 L190.04,364.02 L191.87,364.03 L193.69,364.17 L195.52,364.50 L197.34,364.71 L199.16,364.96 L200.99,364.91 L202.81,365.13 L204.64,365.09 L206.46,365.34 L208.29,365.26 L210.11,365.24 L211.94,365.02 L213.76,364.93 L215.58,364.83 L217.41,364.99 L219.23,365.20 L221.06,365.44 L222.88,365.48 L224.71,365.49 L226.53,365.35 L228.36,365.44 L230.18,365.54 L232.01,365.79 L233.83,365.81 L235.65,365.75 L237.48,365.59 L239.30,365.45 L241.13,365.51 L242.95,365.61 L244.78,365.79 L246.60,365.85 L248.43,365.99 L250.25,365.98 L252.08,366.02 L253.90,365.97 L255.72,365.93 L257.55,365.85 L259.37,365.94 L261.20,366.13 L263.02,366.12 L264.85,366.18 L266.67,366.06 L268.50,366.06 L270.32,365.98 L272.15,366.06 L273.97,366.11 L275.79,366.09 L277.62,366.14 L279.44,366.09 L281.27,366.11 L283.09,366.06 L284.92,366.15 L286.74,366.17 L288.57,366.22 L290.39,366.18 L292.22,366.12 L294.04,365.98 L295.86,365.86 L297.69,365.84 L299.51,365.82 L301.34,365.87 L303.16,365.90 L304.99,365.98 L306.81,365.94 L308.64,366.08 L310.46,366.08 L312.28,366.19 L314.11,366.19 L315.93,366.28 L317.76,366.19 L319.58,366.27 L321.41,366.21 L323.23,366.23 L325.06,366.15 L326.88,366.14 L328.71,366.04 L330.53,366.05 L332.35,366.23 L334.18,366.21 L336.00,366.34 L337.83,366.24 L339.65,366.22 L341.48,366.06 L343.30,366.09 L345.13,366.04 L346.95,366.09 L348.78,366.11 L350.60,366.19" fill="none" stroke="#AB63FA" stroke-width="1.75" stroke-dasharray="8.6 2.15 1.35 2.15" stroke-linejoin="round"/>
</g>
<rect x="46.0" y="18.0" width="318.5" height="236.2" fill="none" stroke="#161616" stroke-width="1"/>
<line x1="60.4" y1="254.2" x2="60.4" y2="257.5" stroke="#161616" stroke-width="0.9"/>
<text x="60.4" y="267.9" text-anchor="middle" font-size="12" fill="#1c1c1c">0.0</text>
<line x1="154.5" y1="254.2" x2="154.5" y2="257.5" stroke="#161616" stroke-width="0.9"/>
<text x="154.5" y="267.9" text-anchor="middle" font-size="12" fill="#1c1c1c">1.0</text>
<line x1="248.6" y1="254.2" x2="248.6" y2="257.5" stroke="#161616" stroke-width="0.9"/>
<text x="248.6" y="267.9" text-anchor="middle" font-size="12" fill="#1c1c1c">2.0</text>
<line x1="342.7" y1="254.2" x2="342.7" y2="257.5" stroke="#161616" stroke-width="0.9"/>
<text x="342.7" y="267.9" text-anchor="middle" font-size="12" fill="#1c1c1c">3.0</text>
<line x1="42.4" y1="244.3" x2="46.0" y2="244.3" stroke="#161616" stroke-width="1"/>
<text transform="translate(39.0,244.3) rotate(-90)" text-anchor="middle" font-size="12" fill="#1c1c1c">0</text>
<line x1="42.4" y1="201.18" x2="46.0" y2="201.18" stroke="#161616" stroke-width="1"/>
<text transform="translate(39.0,201.18) rotate(-90)" text-anchor="middle" font-size="12" fill="#1c1c1c">20</text>
<line x1="42.4" y1="158.06" x2="46.0" y2="158.06" stroke="#161616" stroke-width="1"/>
<text transform="translate(39.0,158.06) rotate(-90)" text-anchor="middle" font-size="12" fill="#1c1c1c">40</text>
<line x1="42.4" y1="114.94" x2="46.0" y2="114.94" stroke="#161616" stroke-width="1"/>
<text transform="translate(39.0,114.94) rotate(-90)" text-anchor="middle" font-size="12" fill="#1c1c1c">60</text>
<line x1="42.4" y1="71.82" x2="46.0" y2="71.82" stroke="#161616" stroke-width="1"/>
<text transform="translate(39.0,71.82) rotate(-90)" text-anchor="middle" font-size="12" fill="#1c1c1c">80</text>
<line x1="42.4" y1="28.69999999999999" x2="46.0" y2="28.69999999999999" stroke="#161616" stroke-width="1"/>
<text transform="translate(39.0,28.69999999999999) rotate(-90)" text-anchor="middle" font-size="12" fill="#1c1c1c">100</text>
<rect x="46.0" y="320.15" width="318.5" height="236.20000000000005" fill="none" stroke="#161616" stroke-width="1"/>
<line x1="60.4" y1="556.35" x2="60.4" y2="559.65" stroke="#161616" stroke-width="0.9"/>
<text x="60.4" y="570.0500000000001" text-anchor="middle" font-size="12" fill="#1c1c1c">0.0</text>
<line x1="154.5" y1="556.35" x2="154.5" y2="559.65" stroke="#161616" stroke-width="0.9"/>
<text x="154.5" y="570.0500000000001" text-anchor="middle" font-size="12" fill="#1c1c1c">1.0</text>
<line x1="248.6" y1="556.35" x2="248.6" y2="559.65" stroke="#161616" stroke-width="0.9"/>
<text x="248.6" y="570.0500000000001" text-anchor="middle" font-size="12" fill="#1c1c1c">2.0</text>
<line x1="342.7" y1="556.35" x2="342.7" y2="559.65" stroke="#161616" stroke-width="0.9"/>
<text x="342.7" y="570.0500000000001" text-anchor="middle" font-size="12" fill="#1c1c1c">3.0</text>
<line x1="42.4" y1="520.2" x2="46.0" y2="520.2" stroke="#161616" stroke-width="1"/>
<text transform="translate(39.0,520.2) rotate(-90)" text-anchor="middle" font-size="12" fill="#1c1c1c">80</text>
<line x1="42.4" y1="472.95" x2="46.0" y2="472.95" stroke="#161616" stroke-width="1"/>
<text transform="translate(39.0,472.95) rotate(-90)" text-anchor="middle" font-size="12" fill="#1c1c1c">85</text>
<line x1="42.4" y1="425.7" x2="46.0" y2="425.7" stroke="#161616" stroke-width="1"/>
<text transform="translate(39.0,425.7) rotate(-90)" text-anchor="middle" font-size="12" fill="#1c1c1c">90</text>
<line x1="42.4" y1="378.45" x2="46.0" y2="378.45" stroke="#161616" stroke-width="1"/>
<text transform="translate(39.0,378.45) rotate(-90)" text-anchor="middle" font-size="12" fill="#1c1c1c">95</text>
<line x1="42.4" y1="331.2" x2="46.0" y2="331.2" stroke="#161616" stroke-width="1"/>
<text transform="translate(39.0,331.2) rotate(-90)" text-anchor="middle" font-size="12" fill="#1c1c1c">100</text>
<text x="215.0" y="286.0" text-anchor="middle" font-size="13.3" fill="#1c1c1c">Phase Noise Strength [Rad]</text>
<text x="215.0" y="584.6" text-anchor="middle" font-size="13.3" fill="#1c1c1c">Phase Noise Strength [Rad]</text>
<text transform="translate(20.5,129.8) rotate(-90)" text-anchor="middle" font-size="13.3" fill="#1c1c1c">Fidelity [%]</text>
<text transform="translate(20.5,430.3) rotate(-90)" text-anchor="middle" font-size="13.3" fill="#1c1c1c">Similarity [%]</text>
<text x="-0.4" y="9.7" font-size="14.4" fill="#1c1c1c">a)</text>
<text x="-0.2" y="308.2" font-size="14.4" fill="#1c1c1c">b)</text>
<rect x="269.2" y="29.2" width="85.10000000000002" height="63.4" rx="2.4" ry="2.4" fill="#fff" fill-opacity="0.8" stroke="#ccc" stroke-width="1"/>
<line x1="272.8" y1="36.2" x2="291.9" y2="36.2" stroke="#EF553B" stroke-width="1.75"/>
<text x="298.8" y="40.2" font-size="13.2" fill="#1c1c1c">QW</text>
<line x1="272.8" y1="52.2" x2="291.9" y2="52.2" stroke="#636EFA" stroke-width="1.75" stroke-dasharray="5 2.15"/>
<text x="298.8" y="56.2" font-size="13.2" fill="#1c1c1c">Clements</text>
<line x1="272.8" y1="67.7" x2="291.9" y2="67.7" stroke="#00CC96" stroke-width="1.75" stroke-dasharray="1.5 2.07"/>
<text x="297.6" y="71.7" font-size="13.2" fill="#1c1c1c">Reck</text>
<line x1="272.8" y1="83.1" x2="291.9" y2="83.1" stroke="#AB63FA" stroke-width="1.75" stroke-dasharray="8.6 2.15 1.35 2.15"/>
<text x="298.8" y="87.1" font-size="13.2" fill="#1c1c1c">MGDR</text>
<rect x="269.2" y="402.5" width="85.10000000000002" height="63.4" rx="2.4" ry="2.4" fill="#fff" fill-opacity="0.8" stroke="#ccc" stroke-width="1"/>
<line x1="272.8" y1="409.5" x2="291.9" y2="409.5" stroke="#EF553B" stroke-width="1.75"/>
<text x="298.8" y="413.5" font-size="13.2" fill="#1c1c1c">QW</text>
<line x1="272.8" y1="425.5" x2="291.9" y2="425.5" stroke="#636EFA" stroke-width="1.75" stroke-dasharray="5 2.15"/>
<text x="298.8" y="429.5" font-size="13.2" fill="#1c1c1c">Clements</text>
<line x1="272.8" y1="441.0" x2="291.9" y2="441.0" stroke="#00CC96" stroke-width="1.75" stroke-dasharray="1.5 2.07"/>
<text x="297.6" y="445.0" font-size="13.2" fill="#1c1c1c">Reck</text>
<line x1="272.8" y1="456.4" x2="291.9" y2="456.4" stroke="#AB63FA" stroke-width="1.75" stroke-dasharray="8.6 2.15 1.35 2.15"/>
<text x="298.8" y="460.4" font-size="13.2" fill="#1c1c1c">MGDR</text>
</svg>
</body></html>
